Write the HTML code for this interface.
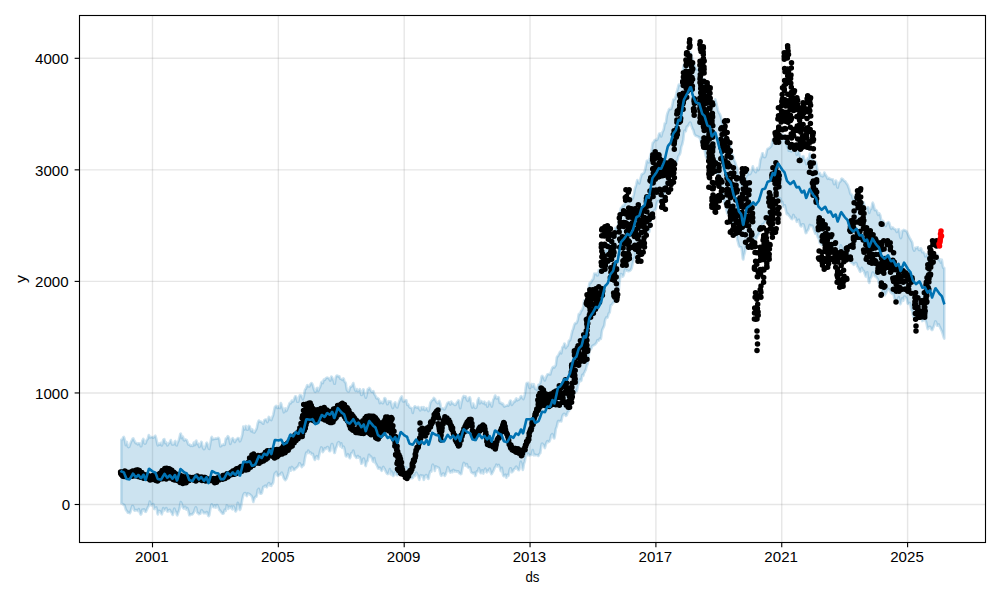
<!DOCTYPE html>
<html><head><meta charset="utf-8"><style>
html,body{margin:0;padding:0;background:#fff;}
svg{display:block;}
text{font-family:"Liberation Sans",sans-serif;font-size:14px;fill:#000;}
</style></head><body>
<svg width="1000" height="600" viewBox="0 0 1000 600">
<rect x="0" y="0" width="1000" height="600" fill="#fff"/>
<g stroke="#808080" stroke-opacity="0.2" stroke-width="1.39"><line x1="152.50" y1="15.5" x2="152.50" y2="542.5"/><line x1="278.35" y1="15.5" x2="278.35" y2="542.5"/><line x1="404.20" y1="15.5" x2="404.20" y2="542.5"/><line x1="530.05" y1="15.5" x2="530.05" y2="542.5"/><line x1="655.90" y1="15.5" x2="655.90" y2="542.5"/><line x1="781.75" y1="15.5" x2="781.75" y2="542.5"/><line x1="907.60" y1="15.5" x2="907.60" y2="542.5"/><line x1="79.5" y1="504.50" x2="985.5" y2="504.50"/><line x1="79.5" y1="392.95" x2="985.5" y2="392.95"/><line x1="79.5" y1="281.40" x2="985.5" y2="281.40"/><line x1="79.5" y1="169.85" x2="985.5" y2="169.85"/><line x1="79.5" y1="58.30" x2="985.5" y2="58.30"/></g>
<polygon points="121.3,439.7 121.8,439.7 122.3,439.5 122.8,438.4 123.3,437.1 123.8,436.9 124.3,438.0 124.8,440.1 125.3,443.0 125.8,445.1 126.3,443.9 126.8,441.9 127.3,444.2 127.8,446.6 128.3,447.1 128.8,447.1 129.3,446.7 129.8,445.4 130.3,443.8 130.8,442.5 131.3,441.3 131.8,440.4 132.3,439.4 132.8,438.5 133.3,438.4 133.8,439.5 134.3,440.7 134.8,441.7 135.3,442.6 135.8,443.3 136.3,443.3 136.8,443.1 137.3,443.8 137.8,444.4 138.3,443.5 138.8,443.3 139.3,443.5 139.8,443.6 140.3,444.7 140.8,446.3 141.3,446.3 141.8,443.3 142.3,440.8 142.8,439.8 143.3,438.8 143.8,440.4 144.3,443.2 144.8,443.7 145.3,443.6 145.8,442.8 146.3,441.1 146.8,439.9 147.3,439.5 147.8,438.8 148.3,436.9 148.8,435.1 149.3,435.9 149.8,437.5 150.3,437.5 150.8,437.1 151.3,437.0 151.8,437.1 152.3,437.3 152.8,437.6 153.3,437.7 153.8,437.2 154.3,436.7 154.8,436.2 155.3,435.7 155.8,437.1 156.3,438.9 156.8,441.3 157.3,444.0 157.8,445.4 158.3,444.4 158.8,443.5 159.3,444.1 159.8,444.7 160.3,443.8 160.8,442.9 161.3,444.1 161.8,445.5 162.3,444.4 162.8,441.7 163.3,439.9 163.8,439.3 164.3,439.1 164.8,440.8 165.3,443.2 165.8,442.9 166.3,442.5 166.8,443.8 167.3,445.4 167.8,445.1 168.3,444.0 168.8,443.2 169.3,442.9 169.8,442.4 170.3,441.1 170.8,440.0 171.3,441.9 171.8,443.7 172.3,444.6 172.8,444.5 173.3,444.3 173.8,444.4 174.3,443.6 174.8,441.4 175.3,441.0 175.8,443.2 176.3,445.3 176.8,445.4 177.3,443.5 177.8,442.2 178.3,441.3 178.8,439.9 179.3,438.0 179.8,436.0 180.3,433.9 180.8,433.6 181.3,435.8 181.8,438.1 182.3,437.3 182.8,436.5 183.3,438.0 183.8,440.1 184.3,440.5 184.8,439.8 185.3,439.4 185.8,439.6 186.3,439.9 186.8,440.2 187.3,441.5 187.8,443.0 188.3,444.4 188.8,444.7 189.3,444.5 189.8,444.6 190.3,445.5 190.8,445.9 191.3,445.5 191.8,445.3 192.3,445.9 192.8,445.9 193.3,444.2 193.8,442.6 194.3,443.5 194.8,445.1 195.3,444.0 195.8,441.2 196.3,440.6 196.8,442.6 197.3,444.1 197.8,443.8 198.3,443.5 198.8,445.8 199.3,447.0 199.8,446.4 200.3,445.3 200.8,443.6 201.3,441.8 201.8,442.4 202.3,445.0 202.8,447.3 203.3,448.3 203.8,449.2 204.3,449.1 204.8,448.2 205.3,446.6 205.8,444.9 206.3,443.2 206.8,442.7 207.3,443.6 207.8,445.3 208.3,447.2 208.8,448.7 209.3,449.0 209.8,446.3 210.3,443.5 210.8,440.7 211.3,437.8 211.8,436.9 212.3,438.4 212.8,439.5 213.3,439.1 213.8,438.8 214.3,438.9 214.8,439.0 215.3,438.7 215.8,438.4 216.3,438.5 216.8,438.7 217.3,438.5 217.8,438.0 218.3,437.8 218.8,438.2 219.3,439.4 219.8,442.9 220.3,446.4 220.8,446.2 221.3,445.2 221.8,445.1 222.3,445.3 222.8,445.0 223.3,444.4 223.8,444.4 224.3,444.9 224.8,444.5 225.3,441.5 225.8,438.6 226.3,438.5 226.8,438.5 227.3,437.0 227.8,436.2 228.3,436.6 228.8,437.4 229.3,439.0 229.8,441.9 230.3,443.9 230.8,442.7 231.3,441.1 231.8,439.8 232.3,438.5 232.8,438.2 233.3,438.9 233.8,440.1 234.3,441.6 234.8,442.1 235.3,441.2 235.8,439.8 236.3,439.5 236.8,439.3 237.3,438.6 237.8,438.1 238.3,438.0 238.8,438.5 239.3,439.8 239.8,441.3 240.3,440.9 240.8,439.5 241.3,438.1 241.8,436.4 242.3,434.7 242.8,430.6 243.3,426.5 243.8,427.5 244.3,429.6 244.8,429.0 245.3,426.5 245.8,425.9 246.3,427.9 246.8,429.6 247.3,429.8 247.8,429.8 248.3,427.8 248.8,425.8 249.3,425.9 249.8,426.6 250.3,428.4 250.8,430.5 251.3,431.3 251.8,430.1 252.3,429.3 252.8,430.8 253.3,432.2 253.8,432.4 254.3,432.6 254.8,431.9 255.3,430.9 255.8,429.9 256.3,429.3 256.8,427.9 257.3,425.3 257.8,423.0 258.3,421.7 258.8,420.5 259.3,421.0 259.8,421.7 260.3,421.8 260.8,421.6 261.3,422.0 261.8,422.6 262.3,422.8 262.8,423.5 263.3,423.7 263.8,421.8 264.3,420.2 264.8,419.8 265.3,419.5 265.8,419.5 266.3,419.6 266.8,420.9 267.3,422.1 267.8,421.5 268.3,418.9 268.8,416.9 269.3,417.2 269.8,419.5 270.3,419.4 270.8,419.3 271.3,420.2 271.8,418.6 272.3,417.2 272.8,416.2 273.3,414.6 273.8,412.1 274.3,409.6 274.8,407.3 275.3,406.5 275.8,406.2 276.3,405.8 276.8,406.7 277.3,408.0 277.8,407.8 278.3,406.6 278.8,406.4 279.3,407.7 279.8,408.1 280.3,405.6 280.8,403.1 281.3,404.1 281.8,406.1 282.3,407.4 282.8,408.7 283.3,410.5 283.8,412.3 284.3,412.0 284.8,409.8 285.3,408.4 285.8,409.7 286.3,411.0 286.8,410.3 287.3,408.9 287.8,407.7 288.3,406.6 288.8,405.3 289.3,403.9 289.8,402.9 290.3,402.9 290.8,403.3 291.3,401.9 291.8,400.5 292.3,401.0 292.8,401.6 293.3,401.4 293.8,399.9 294.3,398.6 294.8,397.3 295.3,396.3 295.8,396.2 296.3,397.3 296.8,399.5 297.3,401.7 297.8,401.8 298.3,401.8 298.8,399.5 299.3,396.4 299.8,395.2 300.3,395.4 300.8,395.1 301.3,395.6 301.8,396.6 302.3,398.1 302.8,399.3 303.3,398.0 303.8,396.2 304.3,393.4 304.8,390.4 305.3,389.1 305.8,388.9 306.3,387.8 306.8,386.1 307.3,385.2 307.8,385.7 308.3,386.3 308.8,386.4 309.3,386.5 309.8,385.6 310.3,384.4 310.8,383.6 311.3,383.1 311.8,383.2 312.3,384.0 312.8,385.2 313.3,387.1 313.8,389.0 314.3,390.2 314.8,391.4 315.3,391.8 315.8,391.3 316.3,390.1 316.8,388.2 317.3,387.9 317.8,389.8 318.3,391.1 318.8,389.9 319.3,388.4 319.8,387.5 320.3,386.5 320.8,384.6 321.3,382.5 321.8,381.8 322.3,383.0 322.8,383.1 323.3,381.2 323.8,379.6 324.3,380.0 324.8,379.9 325.3,379.2 325.8,378.3 326.3,377.9 326.8,377.7 327.3,377.6 327.8,377.9 328.3,378.2 328.8,378.3 329.3,378.8 329.8,380.0 330.3,380.6 330.8,378.6 331.3,376.5 331.8,376.8 332.3,378.1 332.8,379.2 333.3,379.8 333.8,381.3 334.3,383.8 334.8,383.7 335.3,380.4 335.8,377.1 336.3,376.3 336.8,375.6 337.3,375.6 337.8,376.2 338.3,376.6 338.8,376.1 339.3,376.3 339.8,377.6 340.3,378.7 340.8,378.9 341.3,379.1 341.8,379.5 342.3,379.8 342.8,379.2 343.3,378.4 343.8,378.9 344.3,380.7 344.8,382.2 345.3,382.3 345.8,383.1 346.3,386.7 346.8,389.7 347.3,390.5 347.8,391.2 348.3,391.4 348.8,391.4 349.3,390.3 349.8,388.2 350.3,386.7 350.8,386.8 351.3,386.8 351.8,386.0 352.3,385.3 352.8,384.1 353.3,383.0 353.8,384.9 354.3,387.2 354.8,388.9 355.3,390.3 355.8,390.9 356.3,390.1 356.8,389.0 357.3,390.2 357.8,391.3 358.3,390.8 358.8,390.8 359.3,390.1 359.8,389.2 360.3,390.3 360.8,392.9 361.3,395.0 361.8,394.9 362.3,394.1 362.8,391.6 363.3,389.2 363.8,390.0 364.3,392.5 364.8,394.6 365.3,396.5 365.8,397.7 366.3,396.4 366.8,394.3 367.3,391.4 367.8,389.1 368.3,389.1 368.8,389.2 369.3,387.9 369.8,388.4 370.3,389.5 370.8,390.6 371.3,391.4 371.8,391.9 372.3,392.0 372.8,391.3 373.3,391.0 373.8,392.5 374.3,394.0 374.8,394.8 375.3,395.5 375.8,396.5 376.3,398.1 376.8,398.5 377.3,398.0 377.8,398.2 378.3,398.8 378.8,399.1 379.3,401.2 379.8,403.2 380.3,402.3 380.8,401.5 381.3,402.2 381.8,402.5 382.3,402.9 382.8,403.3 383.3,402.6 383.8,400.5 384.3,398.5 384.8,398.0 385.3,398.4 385.8,399.8 386.3,401.3 386.8,402.8 387.3,404.2 387.8,404.0 388.3,402.1 388.8,401.2 389.3,401.6 389.8,401.8 390.3,401.3 390.8,401.4 391.3,403.5 391.8,405.7 392.3,407.1 392.8,408.1 393.3,407.0 393.8,405.0 394.3,403.5 394.8,402.7 395.3,402.4 395.8,404.5 396.3,406.5 396.8,407.2 397.3,407.4 397.8,405.7 398.3,404.1 398.8,402.6 399.3,401.2 399.8,399.9 400.3,398.6 400.8,397.7 401.3,397.0 401.8,396.4 402.3,398.7 402.8,401.0 403.3,401.5 403.8,401.5 404.3,401.3 404.8,400.9 405.3,400.5 405.8,400.1 406.3,400.3 406.8,402.4 407.3,405.0 407.8,404.7 408.3,404.4 408.8,405.5 409.3,406.9 409.8,407.5 410.3,407.7 410.8,407.8 411.3,407.9 411.8,408.4 412.3,410.9 412.8,413.0 413.3,410.6 413.8,408.0 414.3,407.0 414.8,406.3 415.3,406.5 415.8,407.1 416.3,407.5 416.8,407.5 417.3,407.6 417.8,407.2 418.3,406.8 418.8,408.2 419.3,409.1 419.8,409.7 420.3,410.4 420.8,409.4 421.3,407.3 421.8,407.0 422.3,408.5 422.8,409.4 423.3,408.3 423.8,407.1 424.3,409.1 424.8,410.1 425.3,409.7 425.8,408.9 426.3,408.1 426.8,408.1 427.3,409.2 427.8,410.2 428.3,411.1 428.8,410.6 429.3,408.2 429.8,405.6 430.3,402.9 430.8,401.9 431.3,401.4 431.8,400.4 432.3,400.0 432.8,400.0 433.3,398.8 433.8,397.9 434.3,398.3 434.8,398.8 435.3,399.9 435.8,400.9 436.3,401.7 436.8,402.4 437.3,402.9 437.8,403.4 438.3,402.9 438.8,401.5 439.3,401.0 439.8,402.4 440.3,403.8 440.8,406.8 441.3,408.8 441.8,408.8 442.3,408.4 442.8,408.4 443.3,408.6 443.8,409.0 444.3,409.4 444.8,409.1 445.3,408.0 445.8,406.9 446.3,405.7 446.8,404.4 447.3,403.3 447.8,402.7 448.3,402.6 448.8,402.1 449.3,402.4 449.8,403.6 450.3,404.6 450.8,403.3 451.3,401.5 451.8,402.5 452.3,403.5 452.8,403.3 453.3,403.6 453.8,404.2 454.3,404.7 454.8,405.0 455.3,404.9 455.8,404.6 456.3,403.7 456.8,402.6 457.3,401.9 457.8,401.2 458.3,400.4 458.8,400.7 459.3,403.1 459.8,406.8 460.3,408.2 460.8,405.8 461.3,403.3 461.8,401.2 462.3,399.0 462.8,397.7 463.3,396.4 463.8,396.0 464.3,396.9 464.8,396.9 465.3,396.4 465.8,396.7 466.3,398.3 466.8,399.7 467.3,400.3 467.8,400.9 468.3,399.6 468.8,398.3 469.3,397.6 469.8,397.2 470.3,398.7 470.8,401.7 471.3,404.3 471.8,406.3 472.3,407.6 472.8,405.7 473.3,403.5 473.8,405.2 474.3,406.8 474.8,407.5 475.3,407.9 475.8,407.9 476.3,407.3 476.8,405.7 477.3,402.7 477.8,400.1 478.3,399.1 478.8,398.2 479.3,400.4 479.8,403.5 480.3,402.8 480.8,401.2 481.3,401.0 481.8,401.9 482.3,402.4 482.8,403.0 483.3,403.3 483.8,402.4 484.3,401.6 484.8,402.8 485.3,404.3 485.8,403.9 486.3,403.1 486.8,404.3 487.3,406.7 487.8,406.3 488.3,403.6 488.8,401.6 489.3,402.3 489.8,404.0 490.3,403.6 490.8,403.2 491.3,405.3 491.8,406.6 492.3,404.7 492.8,401.8 493.3,399.7 493.8,398.8 494.3,397.7 494.8,396.0 495.3,395.4 495.8,396.9 496.3,398.4 496.8,398.5 497.3,398.2 497.8,397.7 498.3,397.0 498.8,397.8 499.3,400.7 499.8,402.9 500.3,402.8 500.8,402.8 501.3,403.0 501.8,404.1 502.3,404.0 502.8,403.6 503.3,404.5 503.8,406.1 504.3,406.6 504.8,406.3 505.3,406.0 505.8,405.9 506.3,405.8 506.8,405.7 507.3,405.1 507.8,405.3 508.3,405.7 508.8,404.8 509.3,402.9 509.8,401.5 510.3,400.6 510.8,400.7 511.3,402.8 511.8,405.0 512.3,404.3 512.8,403.6 513.3,403.0 513.8,401.7 514.3,401.2 514.8,401.6 515.3,401.0 515.8,399.1 516.3,398.4 516.8,399.4 517.3,400.3 517.8,399.9 518.3,399.5 518.8,399.7 519.3,399.2 519.8,398.4 520.3,397.5 520.8,396.4 521.3,396.1 521.8,396.9 522.3,397.7 522.8,398.4 523.3,399.1 523.8,398.1 524.3,396.4 524.8,394.5 525.3,391.4 525.8,387.4 526.3,384.1 526.8,383.1 527.3,383.0 527.8,382.9 528.3,382.9 528.8,385.3 529.3,387.6 529.8,388.0 530.3,387.9 530.8,386.6 531.3,384.5 531.8,383.9 532.3,385.7 532.8,386.7 533.3,385.3 533.8,384.2 534.3,386.0 534.8,387.8 535.3,388.9 535.8,388.6 536.3,389.0 536.8,389.9 537.3,389.4 537.8,386.7 538.3,384.7 538.8,384.6 539.3,384.2 539.8,383.7 540.3,383.1 540.8,380.7 541.3,377.7 541.8,376.0 542.3,375.9 542.8,376.5 543.3,377.2 543.8,378.0 544.3,379.2 544.8,380.5 545.3,379.3 545.8,377.8 546.3,376.7 546.8,375.7 547.3,374.5 547.8,374.3 548.3,374.2 548.8,374.1 549.3,374.1 549.8,374.5 550.3,374.4 550.8,372.5 551.3,370.7 551.8,369.2 552.3,368.0 552.8,367.2 553.3,366.9 553.8,366.9 554.3,367.5 554.8,366.6 555.3,365.9 555.8,365.2 556.3,361.3 556.8,357.3 557.3,356.3 557.8,356.2 558.3,355.4 558.8,354.3 559.3,353.3 559.8,352.3 560.3,351.5 560.8,352.4 561.3,353.3 561.8,350.4 562.3,347.4 562.8,346.8 563.3,346.8 563.8,345.5 564.3,343.6 564.8,343.7 565.3,346.3 565.8,348.1 566.3,347.3 566.8,346.2 567.3,345.9 567.8,345.5 568.3,343.5 568.8,341.0 569.3,340.3 569.8,340.6 570.3,339.8 570.8,337.5 571.3,335.2 571.8,333.1 572.3,330.9 572.8,329.8 573.3,328.6 573.8,326.6 574.3,324.8 574.8,323.7 575.3,323.2 575.8,323.0 576.3,323.2 576.8,322.5 577.3,321.2 577.8,319.9 578.3,316.8 578.8,314.0 579.3,313.8 579.8,314.2 580.3,313.3 580.8,311.5 581.3,310.6 581.8,310.4 582.3,309.3 582.8,307.9 583.3,306.5 583.8,302.8 584.3,300.2 584.8,301.6 585.3,303.8 585.8,303.5 586.3,300.0 586.8,297.0 587.3,296.7 587.8,295.6 588.3,291.4 588.8,287.2 589.3,284.2 589.8,282.7 590.3,282.6 590.8,282.7 591.3,281.9 591.8,280.6 592.3,279.8 592.8,279.6 593.3,278.9 593.8,276.2 594.3,273.5 594.8,273.8 595.3,274.1 595.8,273.5 596.3,273.5 596.8,274.3 597.3,275.5 597.8,275.3 598.3,272.7 598.8,270.1 599.3,270.2 599.8,270.3 600.3,269.7 600.8,269.0 601.3,267.8 601.8,265.8 602.3,262.8 602.8,259.5 603.3,257.1 603.8,256.5 604.3,255.3 604.8,252.2 605.3,250.2 605.8,249.6 606.3,249.0 606.8,249.9 607.3,251.2 607.8,250.1 608.3,246.8 608.8,244.1 609.3,243.0 609.8,241.9 610.3,241.3 610.8,241.3 611.3,240.6 611.8,239.9 612.3,238.9 612.8,237.9 613.3,236.8 613.8,235.4 614.3,233.4 614.8,230.4 615.3,227.7 615.8,227.7 616.3,228.4 616.8,229.2 617.3,230.0 617.8,227.8 618.3,224.4 618.8,221.3 619.3,218.2 619.8,214.9 620.3,211.5 620.8,208.4 621.3,207.8 621.8,207.6 622.3,206.6 622.8,205.6 623.3,205.7 623.8,206.0 624.3,205.2 624.8,203.6 625.3,202.4 625.8,201.8 626.3,201.4 626.8,201.3 627.3,201.3 627.8,201.0 628.3,200.7 628.8,200.5 629.3,200.5 629.8,201.2 630.3,201.7 630.8,201.1 631.3,199.0 631.8,197.5 632.3,197.9 632.8,198.3 633.3,196.5 633.8,194.5 634.3,191.9 634.8,189.1 635.3,187.4 635.8,186.3 636.3,184.3 636.8,181.7 637.3,180.1 637.8,180.8 638.3,181.5 638.8,182.5 639.3,183.5 639.8,181.6 640.3,179.3 640.8,177.3 641.3,175.5 641.8,174.2 642.3,174.0 642.8,173.8 643.3,173.4 643.8,173.0 644.3,172.3 644.8,170.7 645.3,168.4 645.8,166.0 646.3,163.5 646.8,160.9 647.3,160.6 647.8,161.3 648.3,162.0 648.8,162.4 649.3,160.2 649.8,157.8 650.3,155.3 650.8,153.8 651.3,152.6 651.8,149.3 652.3,145.0 652.8,142.8 653.3,142.4 653.8,141.8 654.3,140.9 654.8,140.0 655.3,139.9 655.8,139.7 656.3,139.9 656.8,140.1 657.3,139.4 657.8,138.3 658.3,136.8 658.8,134.7 659.3,133.6 659.8,133.5 660.3,133.4 660.8,135.1 661.3,136.5 661.8,134.8 662.3,132.5 662.8,131.2 663.3,130.5 663.8,129.0 664.3,126.0 664.8,123.2 665.3,123.2 665.8,123.2 666.3,119.6 666.8,115.9 667.3,113.9 667.8,112.4 668.3,111.1 668.8,109.7 669.3,108.9 669.8,108.9 670.3,109.0 670.8,109.2 671.3,108.6 671.8,106.8 672.3,104.9 672.8,102.3 673.3,99.8 673.8,99.2 674.3,99.4 674.8,98.9 675.3,97.4 675.8,95.9 676.3,94.1 676.8,91.8 677.3,90.1 677.8,88.4 678.3,86.0 678.8,84.6 679.3,84.7 679.8,85.2 680.3,85.5 680.8,84.4 681.3,82.3 681.8,79.5 682.3,76.6 682.8,71.7 683.3,66.7 683.8,65.1 684.3,65.6 684.8,65.6 685.3,64.9 685.8,63.7 686.3,61.8 686.8,59.9 687.3,57.9 687.8,56.0 688.3,56.6 688.8,57.1 689.3,55.4 689.8,53.1 690.3,52.4 690.8,53.4 691.3,55.2 691.8,56.9 692.3,58.8 692.8,61.4 693.3,63.3 693.8,63.5 694.3,63.6 694.8,65.0 695.3,66.8 695.8,68.1 696.3,68.6 696.8,69.0 697.3,69.5 697.8,69.7 698.3,68.7 698.8,67.7 699.3,70.0 699.8,73.7 700.3,74.4 700.8,74.3 701.3,75.3 701.8,77.1 702.3,78.5 702.8,79.0 703.3,79.2 703.8,79.2 704.3,79.2 704.8,81.2 705.3,83.7 705.8,86.4 706.3,89.0 706.8,91.0 707.3,92.5 707.8,92.4 708.3,91.2 708.8,90.3 709.3,90.4 709.8,90.7 710.3,93.4 710.8,96.4 711.3,100.0 711.8,103.4 712.3,103.3 712.8,101.9 713.3,101.2 713.8,101.7 714.3,101.9 714.8,100.5 715.3,99.4 715.8,101.1 716.3,102.9 716.8,105.1 717.3,107.3 717.8,109.3 718.3,111.1 718.8,112.5 719.3,113.2 719.8,113.9 720.3,115.3 720.8,116.7 721.3,118.8 721.8,121.2 722.3,124.2 722.8,127.2 723.3,129.4 723.8,131.3 724.3,133.3 724.8,135.7 725.3,138.0 725.8,140.1 726.3,142.3 726.8,142.5 727.3,142.6 727.8,142.9 728.3,143.6 728.8,144.2 729.3,144.9 729.8,145.7 730.3,146.6 730.8,148.1 731.3,151.9 731.8,155.9 732.3,155.5 732.8,155.1 733.3,157.1 733.8,159.4 734.3,160.4 734.8,161.3 735.3,162.5 735.8,164.2 736.3,166.1 736.8,166.9 737.3,167.8 737.8,171.1 738.3,174.4 738.8,176.1 739.3,176.2 739.8,176.7 740.3,177.6 740.8,179.0 741.3,181.1 741.8,184.9 742.3,186.2 742.8,187.5 743.3,190.2 743.8,188.9 744.3,186.2 744.8,183.2 745.3,180.5 745.8,178.0 746.3,176.0 746.8,175.2 747.3,175.1 747.8,172.9 748.3,170.8 748.8,172.5 749.3,174.2 749.8,174.2 750.3,173.8 750.8,172.9 751.3,171.8 751.8,170.1 752.3,167.9 752.8,166.3 753.3,167.7 753.8,170.0 754.3,170.4 754.8,170.8 755.3,171.8 755.8,172.2 756.3,170.8 756.8,168.7 757.3,167.9 757.8,169.3 758.3,170.2 758.8,169.2 759.3,167.5 759.8,163.8 760.3,160.0 760.8,158.4 761.3,157.2 761.8,155.3 762.3,153.2 762.8,153.3 763.3,155.3 763.8,157.0 764.3,157.1 764.8,157.1 765.3,156.8 765.8,155.6 766.3,153.4 766.8,151.0 767.3,149.3 767.8,148.7 768.3,148.6 768.8,148.4 769.3,148.2 769.8,147.7 770.3,147.0 770.8,146.7 771.3,146.1 771.8,143.9 772.3,141.3 772.8,139.4 773.3,139.0 773.8,139.4 774.3,140.6 774.8,140.6 775.3,137.1 775.8,133.3 776.3,133.3 776.8,133.9 777.3,132.9 777.8,131.6 778.3,130.4 778.8,130.3 779.3,131.1 779.8,133.1 780.3,134.7 780.8,135.3 781.3,135.8 781.8,135.5 782.3,135.1 782.8,134.9 783.3,134.8 783.8,135.1 784.3,135.9 784.8,137.1 785.3,139.0 785.8,140.9 786.3,142.9 786.8,145.0 787.3,146.4 787.8,147.3 788.3,149.0 788.8,150.8 789.3,150.8 789.8,149.6 790.3,149.4 790.8,150.8 791.3,151.5 791.8,150.5 792.3,149.5 792.8,149.5 793.3,149.5 793.8,148.5 794.3,148.4 794.8,148.3 795.3,148.3 795.8,149.6 796.3,152.9 796.8,154.8 797.3,153.3 797.8,151.7 798.3,151.2 798.8,150.8 799.3,152.7 799.8,155.6 800.3,157.2 800.8,157.9 801.3,158.3 801.8,157.8 802.3,156.6 802.8,156.3 803.3,156.0 803.8,157.4 804.3,159.5 804.8,160.1 805.3,160.2 805.8,162.1 806.3,164.2 806.8,163.3 807.3,160.4 807.8,158.2 808.3,158.8 808.8,159.3 809.3,156.1 809.8,153.5 810.3,154.7 810.8,156.6 811.3,157.1 811.8,156.5 812.3,157.1 812.8,159.3 813.3,161.4 813.8,162.9 814.3,164.3 814.8,162.8 815.3,161.3 815.8,161.9 816.3,163.5 816.8,166.2 817.3,169.3 817.8,171.7 818.3,172.9 818.8,173.4 819.3,173.1 819.8,172.8 820.3,174.2 820.8,175.6 821.3,175.9 821.8,175.6 822.3,175.7 822.8,176.3 823.3,175.9 823.8,173.9 824.3,172.5 824.8,173.3 825.3,174.5 825.8,175.2 826.3,175.8 826.8,177.0 827.3,178.3 827.8,178.8 828.3,178.3 828.8,177.8 829.3,178.5 829.8,179.0 830.3,178.8 830.8,179.2 831.3,179.3 831.8,179.5 832.3,179.5 832.8,179.4 833.3,181.4 833.8,183.5 834.3,184.2 834.8,183.0 835.3,181.7 835.8,180.5 836.3,180.9 836.8,184.2 837.3,187.4 837.8,187.6 838.3,185.0 838.8,183.4 839.3,182.6 839.8,181.9 840.3,181.6 840.8,180.8 841.3,179.0 841.8,178.6 842.3,178.9 842.8,179.2 843.3,179.8 843.8,180.6 844.3,181.0 844.8,181.0 845.3,181.5 845.8,182.3 846.3,183.2 846.8,183.8 847.3,184.4 847.8,185.3 848.3,186.7 848.8,188.1 849.3,189.4 849.8,191.5 850.3,193.5 850.8,194.5 851.3,194.4 851.8,194.7 852.3,196.7 852.8,198.7 853.3,199.4 853.8,199.5 854.3,197.8 854.8,195.6 855.3,195.0 855.8,195.4 856.3,195.4 856.8,195.5 857.3,196.2 857.8,196.2 858.3,196.1 858.8,197.4 859.3,198.7 859.8,200.8 860.3,202.8 860.8,202.9 861.3,201.6 861.8,201.3 862.3,202.9 862.8,204.4 863.3,203.5 863.8,202.5 864.3,205.1 864.8,207.2 865.3,207.9 865.8,208.3 866.3,208.2 866.8,207.8 867.3,207.4 867.8,207.0 868.3,207.3 868.8,210.7 869.3,212.9 869.8,211.2 870.3,209.5 870.8,209.1 871.3,208.9 871.8,206.9 872.3,203.8 872.8,202.6 873.3,203.9 873.8,205.5 874.3,207.8 874.8,210.1 875.3,210.0 875.8,209.8 876.3,210.3 876.8,210.9 877.3,212.3 877.8,214.2 878.3,214.9 878.8,213.7 879.3,213.4 879.8,214.3 880.3,215.3 880.8,217.9 881.3,220.6 881.8,220.9 882.3,220.7 882.8,220.8 883.3,221.1 883.8,222.0 884.3,223.8 884.8,225.1 885.3,225.7 885.8,226.2 886.3,224.7 886.8,223.2 887.3,222.6 887.8,222.4 888.3,222.1 888.8,222.2 889.3,223.0 889.8,224.8 890.3,226.5 890.8,228.0 891.3,228.8 891.8,228.1 892.3,227.5 892.8,227.6 893.3,228.0 893.8,228.7 894.3,229.0 894.8,229.2 895.3,229.2 895.8,229.7 896.3,231.3 896.8,232.0 897.3,231.2 897.8,230.5 898.3,229.3 898.8,229.1 899.3,231.2 899.8,234.3 900.3,237.2 900.8,238.1 901.3,237.0 901.8,233.9 902.3,230.8 902.8,230.6 903.3,230.4 903.8,229.9 904.3,230.1 904.8,230.6 905.3,230.6 905.8,230.7 906.3,231.2 906.8,231.8 907.3,232.9 907.8,234.0 908.3,235.2 908.8,236.2 909.3,237.2 909.8,238.3 910.3,238.9 910.8,239.9 911.3,241.0 911.8,241.5 912.3,242.7 912.8,246.3 913.3,249.0 913.8,249.9 914.3,250.7 914.8,249.5 915.3,247.8 915.8,247.7 916.3,248.2 916.8,247.9 917.3,247.3 917.8,247.1 918.3,248.5 918.8,249.9 919.3,249.7 919.8,250.2 920.3,249.5 920.8,248.3 921.3,248.9 921.8,250.9 922.3,252.2 922.8,252.2 923.3,251.9 923.8,252.5 924.3,253.2 924.8,254.4 925.3,256.4 925.8,255.8 926.3,254.4 926.8,254.7 927.3,255.9 927.8,256.9 928.3,257.3 928.8,257.5 929.3,257.1 929.8,256.8 930.3,258.0 930.8,260.4 931.3,261.7 931.8,262.6 932.3,262.0 932.8,259.8 933.3,258.2 933.8,257.4 934.3,256.8 934.8,257.1 935.3,257.5 935.8,256.7 936.3,256.8 936.8,256.0 937.3,255.0 937.8,256.2 938.3,258.8 938.8,260.1 939.3,259.4 939.8,259.2 940.3,261.0 940.8,262.7 941.3,261.2 941.8,259.7 942.3,262.4 942.8,266.4 943.3,267.9 943.8,267.6 944.3,268.2 944.3,338.6 943.8,337.7 943.3,335.8 942.8,334.1 942.3,332.5 941.8,331.1 941.3,330.0 940.8,328.9 940.3,327.9 939.8,326.8 939.3,325.7 938.8,324.4 938.3,324.6 937.8,325.8 937.3,325.8 936.8,324.2 936.3,322.6 935.8,321.6 935.3,321.3 934.8,323.1 934.3,324.9 933.8,326.3 933.3,327.5 932.8,328.7 932.3,329.9 931.8,330.0 931.3,329.3 930.8,328.4 930.3,326.9 929.8,326.7 929.3,326.9 928.8,327.1 928.3,328.0 927.8,329.1 927.3,327.6 926.8,324.7 926.3,322.5 925.8,321.4 925.3,320.3 924.8,319.2 924.3,319.0 923.8,319.4 923.3,319.9 922.8,320.7 922.3,321.1 921.8,319.6 921.3,317.3 920.8,316.3 920.3,317.1 919.8,317.7 919.3,317.8 918.8,318.8 918.3,318.3 917.8,317.9 917.3,317.7 916.8,317.5 916.3,317.8 915.8,317.9 915.3,317.5 914.8,316.8 914.3,316.3 913.8,316.5 913.3,316.8 912.8,314.6 912.3,311.5 911.8,310.4 911.3,309.9 910.8,307.5 910.3,304.2 909.8,302.9 909.3,303.5 908.8,303.9 908.3,303.9 907.8,303.7 907.3,301.3 906.8,299.0 906.3,298.1 905.8,297.5 905.3,297.0 904.8,296.6 904.3,296.6 903.8,298.5 903.3,300.6 902.8,299.4 902.3,298.2 901.8,299.8 901.3,301.4 900.8,303.5 900.3,304.1 899.8,302.0 899.3,299.0 898.8,297.2 898.3,298.1 897.8,300.0 897.3,301.2 896.8,302.4 896.3,301.5 895.8,299.7 895.3,299.3 894.8,299.4 894.3,298.0 893.8,295.5 893.3,293.8 892.8,293.9 892.3,293.8 891.8,293.3 891.3,292.9 890.8,292.6 890.3,291.6 889.8,290.7 889.3,289.9 888.8,289.3 888.3,288.9 887.8,289.4 887.3,290.4 886.8,291.5 886.3,292.6 885.8,293.6 885.3,294.4 884.8,295.2 884.3,293.4 883.8,290.7 883.3,290.6 882.8,292.4 882.3,292.4 881.8,290.0 881.3,287.8 880.8,286.4 880.3,285.0 879.8,285.1 879.3,285.2 878.8,282.8 878.3,280.4 877.8,279.1 877.3,278.6 876.8,277.9 876.3,277.0 875.8,276.2 875.3,276.2 874.8,276.3 874.3,275.0 873.8,273.8 873.3,273.0 872.8,272.5 872.3,273.4 871.8,275.7 871.3,277.2 870.8,277.7 870.3,278.5 869.8,280.7 869.3,283.0 868.8,281.9 868.3,279.6 867.8,276.1 867.3,272.3 866.8,272.6 866.3,275.3 865.8,276.5 865.3,275.3 864.8,274.1 864.3,272.6 863.8,270.7 863.3,270.7 862.8,270.8 862.3,269.2 861.8,267.8 861.3,268.7 860.8,270.9 860.3,271.9 859.8,271.2 859.3,270.1 858.8,268.9 858.3,267.8 857.8,267.1 857.3,266.4 856.8,264.5 856.3,263.1 855.8,262.9 855.3,263.2 854.8,263.6 854.3,264.3 853.8,264.8 853.3,264.3 852.8,263.2 852.3,263.1 851.8,263.0 851.3,262.5 850.8,262.0 850.3,261.7 849.8,261.3 849.3,260.2 848.8,259.0 848.3,257.4 847.8,254.8 847.3,252.6 846.8,253.5 846.3,254.5 845.8,254.0 845.3,253.2 844.8,252.5 844.3,251.9 843.8,251.2 843.3,250.5 842.8,249.8 842.3,249.3 841.8,248.9 841.3,246.4 840.8,245.3 840.3,247.4 839.8,250.0 839.3,252.3 838.8,254.2 838.3,256.0 837.8,257.7 837.3,256.9 836.8,254.7 836.3,252.6 835.8,250.7 835.3,250.5 834.8,249.8 834.3,248.7 833.8,249.0 833.3,250.1 832.8,249.3 832.3,247.3 831.8,245.6 831.3,244.9 830.8,244.2 830.3,245.1 829.8,246.9 829.3,246.7 828.8,246.0 828.3,245.5 827.8,244.4 827.3,243.4 826.8,243.2 826.3,242.9 825.8,242.4 825.3,242.0 824.8,242.0 824.3,242.4 823.8,241.9 823.3,241.2 822.8,242.1 822.3,244.1 821.8,245.1 821.3,243.9 820.8,242.8 820.3,242.9 819.8,243.1 819.3,240.8 818.8,238.4 818.3,237.9 817.8,237.2 817.3,235.7 816.8,233.8 816.3,232.5 815.8,233.1 815.3,233.7 814.8,232.3 814.3,231.0 813.8,229.7 813.3,228.3 812.8,227.0 812.3,225.8 811.8,225.6 811.3,225.9 810.8,225.9 810.3,225.4 809.8,224.9 809.3,226.3 808.8,228.3 808.3,229.3 807.8,230.3 807.3,231.0 806.8,231.6 806.3,233.0 805.8,233.1 805.3,231.6 804.8,229.2 804.3,226.9 803.8,225.2 803.3,224.2 802.8,224.2 802.3,224.2 801.8,225.6 801.3,226.5 800.8,226.2 800.3,225.4 799.8,223.9 799.3,221.4 798.8,219.7 798.3,220.2 797.8,220.8 797.3,221.3 796.8,221.8 796.3,220.4 795.8,218.1 795.3,217.6 794.8,218.2 794.3,217.7 793.8,215.5 793.3,215.0 792.8,217.2 792.3,219.3 791.8,219.0 791.3,218.7 790.8,218.0 790.3,217.2 789.8,216.5 789.3,216.1 788.8,215.5 788.3,214.4 787.8,213.6 787.3,214.2 786.8,214.2 786.3,212.1 785.8,209.9 785.3,207.6 784.8,205.3 784.3,205.2 783.8,206.7 783.3,206.5 782.8,203.9 782.3,201.9 781.8,202.5 781.3,203.0 780.8,200.8 780.3,198.6 779.8,198.1 779.3,197.9 778.8,198.3 778.3,199.2 777.8,200.5 777.3,201.1 776.8,201.6 776.3,201.3 775.8,201.6 775.3,204.9 774.8,207.9 774.3,207.9 773.8,206.7 773.3,206.3 772.8,206.7 772.3,207.8 771.8,208.1 771.3,209.0 770.8,212.2 770.3,215.0 769.8,215.1 769.3,215.0 768.8,215.5 768.3,216.1 767.8,216.0 767.3,216.0 766.8,217.4 766.3,219.7 765.8,221.6 765.3,222.2 764.8,222.0 764.3,222.9 763.8,223.9 763.3,224.1 762.8,224.1 762.3,224.5 761.8,225.9 761.3,227.5 760.8,228.8 760.3,230.1 759.8,231.6 759.3,233.1 758.8,234.2 758.3,234.6 757.8,235.2 757.3,236.0 756.8,237.3 756.3,238.8 755.8,239.4 755.3,238.3 754.8,237.0 754.3,237.9 753.8,238.7 753.3,236.1 752.8,234.4 752.3,236.4 751.8,239.2 751.3,240.8 750.8,241.4 750.3,241.6 749.8,241.1 749.3,240.8 748.8,240.9 748.3,241.0 747.8,240.2 747.3,239.3 746.8,240.3 746.3,243.0 745.8,246.4 745.3,249.9 744.8,252.6 744.3,254.3 743.8,256.3 743.3,259.5 742.8,258.7 742.3,254.4 741.8,250.1 741.3,247.3 740.8,247.2 740.3,247.1 739.8,246.9 739.3,246.5 738.8,245.5 738.3,243.4 737.8,241.5 737.3,239.7 736.8,236.0 736.3,232.3 735.8,231.8 735.3,232.5 734.8,231.6 734.3,229.8 733.8,228.7 733.3,227.8 732.8,226.5 732.3,224.7 731.8,223.0 731.3,220.8 730.8,218.8 730.3,216.3 729.8,213.7 729.3,212.5 728.8,212.3 728.3,212.5 727.8,213.2 727.3,213.5 726.8,211.5 726.3,209.5 725.8,207.2 725.3,205.0 724.8,204.3 724.3,203.9 723.8,201.5 723.3,197.7 722.8,194.8 722.3,193.5 721.8,191.8 721.3,189.2 720.8,187.0 720.3,185.8 719.8,184.6 719.3,182.7 718.8,180.5 718.3,179.0 717.8,178.0 717.3,175.8 716.8,171.6 716.3,168.4 715.8,168.8 715.3,169.2 714.8,168.7 714.3,168.5 713.8,168.6 713.3,168.7 712.8,169.3 712.3,170.3 711.8,170.4 711.3,167.7 710.8,165.0 710.3,164.0 709.8,163.3 709.3,162.0 708.8,161.0 708.3,160.1 707.8,159.1 707.3,159.1 706.8,158.7 706.3,157.9 705.8,156.1 705.3,154.1 704.8,151.0 704.3,148.5 703.8,148.5 703.3,148.4 702.8,147.3 702.3,145.9 701.8,144.3 701.3,142.9 700.8,141.3 700.3,139.7 699.8,138.2 699.3,137.1 698.8,137.4 698.3,136.9 697.8,136.4 697.3,136.2 696.8,136.1 696.3,136.1 695.8,135.9 695.3,135.2 694.8,134.7 694.3,133.9 693.8,131.9 693.3,129.9 692.8,129.4 692.3,128.4 691.8,126.8 691.3,125.3 690.8,123.5 690.3,122.6 689.8,122.7 689.3,123.6 688.8,124.5 688.3,125.4 687.8,126.3 687.3,126.5 686.8,126.6 686.3,128.7 685.8,131.2 685.3,131.6 684.8,130.4 684.3,131.1 683.8,135.0 683.3,139.7 682.8,141.9 682.3,144.2 681.8,145.5 681.3,146.8 680.8,150.1 680.3,153.0 679.8,154.2 679.3,155.0 678.8,155.7 678.3,156.6 677.8,158.8 677.3,160.3 676.8,161.8 676.3,163.5 675.8,164.6 675.3,164.9 674.8,165.2 674.3,165.3 673.8,165.3 673.3,166.4 672.8,170.0 672.3,173.1 671.8,172.5 671.3,172.0 670.8,175.0 670.3,177.2 669.8,177.1 669.3,176.6 668.8,178.0 668.3,180.8 667.8,182.3 667.3,182.4 666.8,183.0 666.3,184.7 665.8,186.3 665.3,190.0 664.8,193.7 664.3,196.0 663.8,197.5 663.3,198.8 662.8,200.2 662.3,201.3 661.8,201.8 661.3,202.3 660.8,201.3 660.3,200.1 659.8,201.2 659.3,202.1 658.8,201.4 658.3,201.0 657.8,201.4 657.3,202.2 656.8,203.8 656.3,206.5 655.8,208.7 655.3,209.3 654.8,209.8 654.3,210.3 653.8,210.8 653.3,212.1 652.8,213.6 652.3,213.8 651.8,213.9 651.3,215.4 650.8,218.7 650.3,222.3 649.8,227.1 649.3,231.9 648.8,232.0 648.3,229.4 647.8,229.0 647.3,229.1 646.8,229.5 646.3,231.5 645.8,234.1 645.3,237.5 644.8,240.7 644.3,242.2 643.8,242.9 643.3,241.4 642.8,239.9 642.3,241.4 641.8,243.7 641.3,245.1 640.8,245.6 640.3,246.6 639.8,248.3 639.3,250.2 638.8,251.7 638.3,253.1 637.8,251.8 637.3,250.4 636.8,249.8 636.3,249.8 635.8,252.2 635.3,255.7 634.8,257.8 634.3,257.9 633.8,258.5 633.3,261.0 632.8,263.3 632.3,265.5 631.8,267.7 631.3,268.9 630.8,269.8 630.3,270.4 629.8,270.9 629.3,270.8 628.8,271.1 628.3,271.3 627.8,270.8 627.3,270.3 626.8,270.5 626.3,270.7 625.8,270.0 625.3,269.1 624.8,270.3 624.3,272.8 623.8,274.7 623.3,275.9 622.8,276.6 622.3,275.6 621.8,274.6 621.3,274.1 620.8,274.1 620.3,277.1 619.8,280.6 619.3,284.9 618.8,289.8 618.3,293.8 617.8,296.6 617.3,298.6 616.8,298.3 616.3,298.1 615.8,296.2 615.3,294.9 614.8,297.5 614.3,300.8 613.8,302.3 613.3,302.6 612.8,303.1 612.3,304.0 611.8,304.8 611.3,305.1 610.8,305.3 610.3,308.4 609.8,312.2 609.3,313.1 608.8,313.2 608.3,314.8 607.8,316.9 607.3,317.7 606.8,317.5 606.3,317.4 605.8,318.4 605.3,319.3 604.8,321.7 604.3,325.2 603.8,326.6 603.3,327.6 602.8,328.6 602.3,329.5 601.8,331.9 601.3,336.2 600.8,339.0 600.3,338.8 599.8,338.5 599.3,339.5 598.8,340.5 598.3,340.7 597.8,340.0 597.3,340.5 596.8,342.1 596.3,343.0 595.8,343.4 595.3,344.3 594.8,344.6 594.3,344.8 593.8,345.2 593.3,345.4 592.8,345.7 592.3,346.1 591.8,347.1 591.3,348.5 590.8,349.3 590.3,349.0 589.8,349.1 589.3,351.5 588.8,355.3 588.3,359.3 587.8,363.3 587.3,364.7 586.8,365.5 586.3,367.8 585.8,369.8 585.3,370.6 584.8,371.8 584.3,372.7 583.8,373.6 583.3,375.7 582.8,375.2 582.3,374.8 581.8,377.8 581.3,380.9 580.8,381.1 580.3,379.7 579.8,379.5 579.3,381.2 578.8,382.8 578.3,384.6 577.8,386.5 577.3,388.9 576.8,391.2 576.3,391.5 575.8,390.6 575.3,391.4 574.8,393.3 574.3,393.8 573.8,392.4 573.3,391.9 572.8,394.3 572.3,396.8 571.8,400.6 571.3,404.5 570.8,405.8 570.3,406.5 569.8,408.1 569.3,410.1 568.8,411.3 568.3,411.4 567.8,411.8 567.3,413.5 566.8,415.0 566.3,415.5 565.8,415.8 565.3,415.1 564.8,414.2 564.3,413.7 563.8,413.9 563.3,414.5 562.8,415.3 562.3,416.4 561.8,419.0 561.3,421.4 560.8,421.2 560.3,420.9 559.8,421.2 559.3,421.5 558.8,421.4 558.3,421.0 557.8,421.9 557.3,424.2 556.8,426.4 556.3,427.7 555.8,429.0 555.3,432.8 554.8,436.5 554.3,438.4 553.8,438.3 553.3,437.0 552.8,435.0 552.3,434.0 551.8,434.4 551.3,435.1 550.8,437.1 550.3,439.1 549.8,440.6 549.3,441.5 548.8,441.9 548.3,442.1 547.8,441.8 547.3,441.1 546.8,441.9 546.3,443.2 545.8,444.6 545.3,446.5 544.8,448.1 544.3,446.7 543.8,445.4 543.3,444.7 542.8,444.2 542.3,443.6 541.8,443.7 541.3,445.8 540.8,449.8 540.3,453.1 539.8,453.6 539.3,454.0 538.8,455.2 538.3,455.9 537.8,455.5 537.3,455.1 536.8,455.0 536.3,455.1 535.8,455.1 535.3,455.2 534.8,454.3 534.3,454.8 533.8,455.3 533.3,452.5 532.8,450.0 532.3,451.6 531.8,454.1 531.3,455.0 530.8,455.0 530.3,455.1 529.8,455.3 529.3,455.4 528.8,454.5 528.3,453.7 527.8,454.5 527.3,455.2 526.8,453.7 526.3,452.5 525.8,454.8 525.3,458.8 524.8,461.6 524.3,462.9 523.8,464.6 523.3,468.1 522.8,469.9 522.3,467.7 521.8,465.6 521.3,463.0 520.8,461.7 520.3,463.6 519.8,467.0 519.3,469.4 518.8,470.2 518.3,470.1 517.8,469.3 517.3,468.5 516.8,467.5 516.3,466.6 515.8,466.9 515.3,468.3 514.8,468.9 514.3,468.8 513.8,469.5 513.3,470.8 512.8,471.3 512.3,471.8 511.8,472.3 511.3,470.3 510.8,468.3 510.3,468.3 509.8,469.3 509.3,471.4 508.8,474.4 508.3,475.9 507.8,475.1 507.3,474.8 506.8,476.5 506.3,477.7 505.8,476.2 505.3,474.7 504.8,475.1 504.3,475.9 503.8,476.2 503.3,475.6 502.8,473.8 502.3,470.4 501.8,467.8 501.3,469.1 500.8,471.2 500.3,469.4 499.8,467.6 499.3,466.2 498.8,464.9 498.3,465.0 497.8,466.1 497.3,466.4 496.8,465.3 496.3,464.6 495.8,465.9 495.3,467.1 494.8,467.5 494.3,468.8 493.8,470.0 493.3,471.1 492.8,472.0 492.3,472.9 491.8,474.1 491.3,474.1 490.8,472.6 490.3,470.5 489.8,468.5 489.3,469.3 488.8,471.1 488.3,471.0 487.8,470.5 487.3,471.4 486.8,472.3 486.3,471.9 485.8,470.0 485.3,468.7 484.8,469.5 484.3,470.6 483.8,472.1 483.3,473.6 482.8,472.3 482.3,470.2 481.8,470.6 481.3,472.4 480.8,473.2 480.3,472.4 479.8,471.4 479.3,469.3 478.8,468.1 478.3,469.7 477.8,471.4 477.3,471.5 476.8,471.4 476.3,472.8 475.8,475.3 475.3,475.9 474.8,474.0 474.3,472.7 473.8,473.0 473.3,473.4 472.8,473.3 472.3,472.9 471.8,472.5 471.3,472.3 470.8,470.8 470.3,468.5 469.8,467.4 469.3,467.7 468.8,467.9 468.3,467.6 467.8,467.2 467.3,465.6 466.8,464.0 466.3,464.6 465.8,465.9 465.3,465.6 464.8,464.2 464.3,463.2 463.8,462.9 463.3,463.9 462.8,466.5 462.3,469.0 461.8,471.5 461.3,473.9 460.8,474.2 460.3,473.8 459.8,473.4 459.3,473.2 458.8,472.5 458.3,471.2 457.8,471.2 457.3,471.5 456.8,471.8 456.3,471.4 455.8,470.9 455.3,471.1 454.8,471.6 454.3,471.2 453.8,470.2 453.3,469.9 452.8,470.9 452.3,472.2 451.8,471.6 451.3,471.0 450.8,472.1 450.3,472.6 449.8,471.9 449.3,471.1 448.8,469.7 448.3,468.0 447.8,467.2 447.3,468.8 446.8,470.8 446.3,472.5 445.8,474.1 445.3,475.0 444.8,476.0 444.3,475.4 443.8,473.8 443.3,473.4 442.8,473.9 442.3,474.6 441.8,475.3 441.3,475.8 440.8,475.1 440.3,473.6 439.8,471.3 439.3,469.0 438.8,467.8 438.3,467.5 437.8,467.5 437.3,467.3 436.8,466.9 436.3,466.5 435.8,466.4 435.3,468.7 434.8,471.0 434.3,468.9 433.8,466.8 433.3,465.6 432.8,464.6 432.3,465.6 431.8,469.3 431.3,471.8 430.8,471.2 430.3,471.2 429.8,472.9 429.3,474.6 428.8,477.7 428.3,478.9 427.8,478.3 427.3,477.4 426.8,475.8 426.3,475.0 425.8,475.2 425.3,475.8 424.8,476.8 424.3,478.8 423.8,479.9 423.3,477.8 422.8,475.6 422.3,475.7 421.8,476.2 421.3,475.8 420.8,475.2 420.3,475.8 419.8,478.1 419.3,479.8 418.8,478.4 418.3,476.4 417.8,475.5 417.3,474.5 416.8,473.5 416.3,472.6 415.8,473.3 415.3,475.1 414.8,476.0 414.3,475.5 413.8,475.4 413.3,476.8 412.8,478.1 412.3,478.2 411.8,478.0 411.3,478.2 410.8,478.4 410.3,477.8 409.8,476.5 409.3,475.2 408.8,473.6 408.3,472.1 407.8,471.1 407.3,470.0 406.8,468.6 406.3,467.6 405.8,467.5 405.3,467.6 404.8,468.8 404.3,470.5 403.8,471.2 403.3,470.4 402.8,469.3 402.3,467.0 401.8,464.7 401.3,464.2 400.8,463.9 400.3,465.2 399.8,467.3 399.3,469.5 398.8,471.8 398.3,473.4 397.8,474.2 397.3,475.3 396.8,475.1 396.3,474.4 395.8,473.1 395.3,471.8 394.8,472.8 394.3,474.2 393.8,475.3 393.3,476.0 392.8,475.8 392.3,473.4 391.8,471.6 391.3,473.0 390.8,474.4 390.3,471.5 389.8,469.1 389.3,470.4 388.8,472.4 388.3,473.6 387.8,474.1 387.3,473.9 386.8,473.3 386.3,472.5 385.8,471.6 385.3,470.6 384.8,469.1 384.3,468.5 383.8,467.7 383.3,466.8 382.8,467.7 382.3,469.7 381.8,470.8 381.3,470.5 380.8,469.4 380.3,468.6 379.8,467.7 379.3,468.2 378.8,468.6 378.3,468.5 377.8,467.6 377.3,466.4 376.8,465.3 376.3,464.3 375.8,463.5 375.3,462.8 374.8,460.4 374.3,458.0 373.8,460.0 373.3,461.9 372.8,461.1 372.3,459.6 371.8,458.2 371.3,456.9 370.8,456.3 370.3,456.7 369.8,456.7 369.3,454.9 368.8,454.9 368.3,457.8 367.8,460.7 367.3,461.4 366.8,461.5 366.3,463.3 365.8,466.1 365.3,465.4 364.8,462.6 364.3,460.1 363.8,458.6 363.3,458.9 362.8,460.8 362.3,462.7 361.8,463.5 361.3,463.7 360.8,461.6 360.3,458.8 359.8,457.2 359.3,457.7 358.8,457.8 358.3,456.5 357.8,455.9 357.3,456.8 356.8,457.8 356.3,457.9 355.8,457.1 355.3,456.3 354.8,455.9 354.3,454.7 353.8,452.4 353.3,450.5 352.8,451.6 352.3,452.9 351.8,453.1 351.3,453.2 350.8,455.0 350.3,457.4 349.8,458.2 349.3,457.4 348.8,456.3 348.3,455.0 347.8,454.2 347.3,455.2 346.8,456.1 346.3,456.4 345.8,456.1 345.3,453.7 344.8,450.8 344.3,448.3 343.8,446.8 343.3,446.5 342.8,447.5 342.3,447.9 341.8,445.6 341.3,443.2 340.8,444.8 340.3,446.4 339.8,444.9 339.3,442.7 338.8,442.0 338.3,442.5 337.8,442.8 337.3,444.4 336.8,446.2 336.3,447.4 335.8,448.7 335.3,450.8 334.8,452.9 334.3,452.9 333.8,450.7 333.3,448.1 332.8,445.7 332.3,444.0 331.8,444.1 331.3,445.2 330.8,448.0 330.3,450.9 329.8,451.3 329.3,451.1 328.8,449.7 328.3,447.9 327.8,447.1 327.3,447.0 326.8,447.5 326.3,448.4 325.8,449.0 325.3,448.6 324.8,448.1 324.3,449.5 323.8,450.6 323.3,451.3 322.8,452.1 322.3,450.6 321.8,447.9 321.3,447.3 320.8,448.6 320.3,450.1 319.8,452.4 319.3,454.6 318.8,457.0 318.3,459.1 317.8,458.3 317.3,456.7 316.8,456.2 316.3,456.5 315.8,457.4 315.3,459.2 314.8,459.9 314.3,458.8 313.8,457.7 313.3,455.6 312.8,453.7 312.3,453.8 311.8,454.5 311.3,454.0 310.8,452.7 310.3,452.3 309.8,452.9 309.3,453.1 308.8,451.8 308.3,450.5 307.8,451.8 307.3,453.1 306.8,452.8 306.3,452.6 305.8,454.2 305.3,456.5 304.8,459.1 304.3,462.4 303.8,465.1 303.3,465.4 302.8,465.2 302.3,466.3 301.8,467.1 301.3,466.0 300.8,464.9 300.3,464.3 299.8,463.3 299.3,463.2 298.8,464.8 298.3,465.9 297.8,466.5 297.3,466.9 296.8,467.5 296.3,468.1 295.8,468.1 295.3,468.7 294.8,469.4 294.3,470.0 293.8,470.1 293.3,469.4 292.8,468.0 292.3,467.4 291.8,466.9 291.3,468.8 290.8,470.7 290.3,469.3 289.8,467.8 289.3,468.9 288.8,471.5 288.3,473.6 287.8,475.1 287.3,476.7 286.8,478.2 286.3,479.0 285.8,479.6 285.3,480.2 284.8,479.7 284.3,478.9 283.8,478.2 283.3,476.8 282.8,475.1 282.3,473.6 281.8,472.6 281.3,473.0 280.8,474.4 280.3,474.4 279.8,474.4 279.3,474.8 278.8,475.3 278.3,475.6 277.8,475.9 277.3,475.2 276.8,473.3 276.3,471.8 275.8,472.4 275.3,473.0 274.8,473.4 274.3,475.2 273.8,478.5 273.3,482.1 272.8,483.6 272.3,483.6 271.8,484.4 271.3,485.8 270.8,484.8 270.3,485.1 269.8,485.4 269.3,483.2 268.8,483.0 268.3,483.7 267.8,484.6 267.3,486.0 266.8,487.2 266.3,487.0 265.8,486.2 265.3,485.6 264.8,486.1 264.3,486.7 263.8,486.6 263.3,486.9 262.8,488.9 262.3,491.3 261.8,493.1 261.3,493.6 260.8,493.8 260.3,493.6 259.8,493.0 259.3,490.7 258.8,488.7 258.3,489.3 257.8,489.8 257.3,492.4 256.8,495.5 256.3,496.7 255.8,496.5 255.3,497.0 254.8,497.8 254.3,498.9 253.8,500.4 253.3,502.0 252.8,499.8 252.3,497.5 251.8,496.5 251.3,495.6 250.8,495.1 250.3,494.9 249.8,494.3 249.3,493.9 248.8,493.8 248.3,493.6 247.8,493.4 247.3,494.9 246.8,496.1 246.3,495.2 245.8,493.8 245.3,493.1 244.8,493.0 244.3,493.3 243.8,494.1 243.3,495.1 242.8,497.2 242.3,499.3 241.8,502.4 241.3,505.4 240.8,507.5 240.3,509.3 239.8,509.9 239.3,508.6 238.8,506.6 238.3,503.9 237.8,502.8 237.3,506.0 236.8,509.4 236.3,510.5 235.8,511.5 235.3,511.0 234.8,509.5 234.3,508.0 233.8,506.6 233.3,506.3 232.8,507.9 232.3,509.3 231.8,507.9 231.3,506.4 230.8,507.2 230.3,507.8 229.8,507.4 229.3,506.6 228.8,507.3 228.3,508.8 227.8,508.5 227.3,505.9 226.8,505.3 226.3,508.0 225.8,510.7 225.3,510.1 224.8,509.6 224.3,511.2 223.8,513.1 223.3,513.7 222.8,513.7 222.3,513.5 221.8,512.8 221.3,512.2 220.8,511.8 220.3,510.7 219.8,510.4 219.3,510.0 218.8,508.6 218.3,507.2 217.8,506.1 217.3,505.1 216.8,505.1 216.3,506.7 215.8,507.7 215.3,506.5 214.8,505.3 214.3,506.3 213.8,507.3 213.3,507.2 212.8,506.7 212.3,505.4 211.8,504.3 211.3,505.0 210.8,507.1 210.3,509.4 209.8,512.4 209.3,515.3 208.8,516.1 208.3,515.8 207.8,514.3 207.3,512.9 206.8,512.0 206.3,512.4 205.8,513.2 205.3,512.8 204.8,512.5 204.3,513.3 203.8,513.2 203.3,512.4 202.8,511.6 202.3,510.9 201.8,510.2 201.3,510.4 200.8,512.4 200.3,513.7 199.8,513.9 199.3,514.1 198.8,514.1 198.3,513.1 197.8,512.9 197.3,512.7 196.8,510.6 196.3,507.9 195.8,507.2 195.3,508.1 194.8,509.4 194.3,511.0 193.8,512.4 193.3,513.1 192.8,513.8 192.3,514.4 191.8,514.5 191.3,514.4 190.8,514.3 190.3,514.7 189.8,515.3 189.3,515.2 188.8,512.9 188.3,510.7 187.8,509.4 187.3,508.1 186.8,508.4 186.3,509.6 185.8,508.4 185.3,506.7 184.8,506.8 184.3,508.0 183.8,508.6 183.3,508.1 182.8,507.4 182.3,505.6 181.8,503.9 181.3,502.9 180.8,502.0 180.3,503.8 179.8,507.4 179.3,509.7 178.8,511.2 178.3,512.6 177.8,514.0 177.3,515.3 176.8,514.7 176.3,512.2 175.8,511.8 175.3,511.4 174.8,509.6 174.3,508.6 173.8,510.1 173.3,513.2 172.8,515.0 172.3,514.2 171.8,512.8 171.3,512.4 170.8,511.9 170.3,510.7 169.8,509.8 169.3,509.9 168.8,510.1 168.3,510.7 167.8,511.6 167.3,511.5 166.8,509.5 166.3,508.0 165.8,508.8 165.3,509.6 164.8,509.7 164.3,510.5 163.8,509.5 163.3,508.0 162.8,509.4 162.3,512.7 161.8,514.3 161.3,513.5 160.8,512.5 160.3,511.8 159.8,511.0 159.3,510.9 158.8,510.8 158.3,512.5 157.8,514.4 157.3,512.8 156.8,509.4 156.3,507.4 155.8,507.6 155.3,507.9 154.8,508.4 154.3,509.0 153.8,506.6 153.3,504.1 152.8,504.1 152.3,504.7 151.8,505.0 151.3,505.3 150.8,504.7 150.3,502.7 149.8,501.5 149.3,503.3 148.8,505.9 148.3,506.7 147.8,507.5 147.3,508.7 146.8,510.0 146.3,511.0 145.8,511.9 145.3,511.7 144.8,510.5 144.3,509.5 143.8,509.3 143.3,510.3 142.8,509.9 142.3,509.6 141.8,511.5 141.3,514.0 140.8,514.5 140.3,513.7 139.8,512.5 139.3,510.6 138.8,509.1 138.3,509.7 137.8,511.0 137.3,510.6 136.8,510.2 136.3,510.2 135.8,509.9 135.3,510.0 134.8,510.7 134.3,510.3 133.8,508.5 133.3,506.7 132.8,505.9 132.3,506.0 131.8,507.5 131.3,509.0 130.8,510.7 130.3,512.4 129.8,513.2 129.3,513.0 128.8,512.6 128.3,512.8 127.8,512.7 127.3,511.7 126.8,510.7 126.3,510.5 125.8,509.6 125.3,507.9 124.8,506.1 124.3,505.0 123.8,504.7 123.3,504.7 122.8,504.1 122.3,503.7 121.8,503.6 121.3,503.3" fill="#0072B2" fill-opacity="0.2" stroke="#0072B2" stroke-opacity="0.2" stroke-width="2.6" stroke-linejoin="round"/>
<g fill="#000">

<path d="M559.3 385.8h0M559.4 405.2h0M560.7 388.3h0M560.2 395.5h0M559.8 397.5h0M560.0 386.3h0M560.3 388.6h0M559.6 403.9h0M563.8 383.8h0M562.5 402.2h0M563.1 386.3h0M563.0 398.3h0M562.8 396.2h0M563.1 393.2h0M562.6 398.9h0M563.5 393.9h0M565.4 379.8h0M566.3 405.2h0M565.5 401.9h0M566.6 383.0h0M565.5 391.7h0M565.3 386.8h0M565.5 381.9h0M565.8 402.6h0M566.0 390.7h0M568.3 387.8h0M569.6 407.2h0M569.1 405.4h0M568.7 401.3h0M568.7 394.4h0M568.3 388.1h0M568.5 390.9h0M568.2 407.2h0M569.5 396.7h0M568.9 401.2h0M568.4 388.8h0M571.7 364.8h0M571.6 402.2h0M572.8 392.5h0M572.7 372.1h0M571.7 367.1h0M571.9 387.2h0M571.7 398.3h0M572.4 365.8h0M571.3 394.9h0M571.3 371.9h0M571.8 368.2h0M571.6 365.4h0M572.6 375.7h0M572.4 392.0h0M572.1 383.2h0M572.3 396.7h0M572.3 372.9h0M574.4 350.8h0M574.6 382.2h0M574.8 375.4h0M574.3 380.0h0M575.6 355.5h0M575.2 370.5h0M574.5 355.3h0M575.0 364.7h0M574.3 375.5h0M575.2 378.9h0M574.6 374.7h0M574.3 351.9h0M574.4 362.1h0M575.1 355.9h0M575.2 382.2h0M578.1 345.8h0M578.7 365.2h0M578.7 352.1h0M578.3 358.3h0M577.3 352.6h0M578.5 348.3h0M578.3 351.9h0M577.4 353.5h0M577.9 363.5h0M577.3 348.0h0M578.5 347.4h0M580.4 340.8h0M580.8 361.2h0M581.0 355.5h0M580.7 357.2h0M581.2 356.3h0M581.2 346.2h0M580.6 356.9h0M581.2 345.9h0M583.7 334.8h0M584.1 361.2h0M583.2 344.2h0M583.4 354.2h0M584.5 342.4h0M584.5 355.9h0M584.2 345.8h0M584.6 349.4h0M584.4 352.6h0M583.7 348.5h0M584.2 341.6h0M583.7 360.7h0M584.4 337.3h0M587.0 294.8h0M587.0 359.2h0M586.4 319.6h0M587.0 304.6h0M587.6 351.3h0M586.5 339.3h0M586.2 342.8h0M586.3 330.8h0M586.9 345.2h0M587.8 323.6h0M586.3 331.2h0M587.8 298.8h0M587.1 330.6h0M586.4 347.3h0M586.9 340.3h0M586.5 346.6h0M587.3 326.7h0M587.1 351.6h0M586.7 301.7h0M586.6 351.2h0M587.6 318.7h0M587.4 300.6h0M586.9 334.7h0M586.8 324.1h0M587.4 322.4h0M587.8 349.7h0M586.3 303.6h0M586.5 334.5h0M586.8 321.4h0M589.8 289.8h0M590.6 317.2h0M590.7 303.7h0M589.9 291.7h0M590.4 291.2h0M589.8 295.8h0M589.4 300.4h0M590.1 310.1h0M589.3 306.5h0M590.3 290.6h0M590.5 291.0h0M590.7 302.2h0M589.9 313.8h0M589.4 314.9h0M592.7 289.8h0M593.4 313.2h0M592.7 311.0h0M593.3 310.2h0M593.0 312.5h0M592.9 303.7h0M593.7 305.6h0M592.5 298.5h0M593.0 294.1h0M595.8 288.8h0M595.4 309.2h0M595.3 292.0h0M595.8 308.0h0M596.1 298.8h0M596.0 295.6h0M596.6 292.2h0M596.7 300.9h0M598.8 286.8h0M598.3 303.2h0M599.5 302.2h0M598.6 299.9h0M598.2 294.6h0M598.9 295.4h0M599.3 293.3h0M602.2 228.8h0M601.6 271.2h0M601.3 247.3h0M601.4 244.2h0M601.8 256.7h0M601.7 235.7h0M602.1 229.2h0M602.6 253.9h0M601.8 251.3h0M601.5 265.5h0M602.1 246.4h0M601.2 262.2h0M601.8 229.5h0M601.7 229.9h0M602.2 288.8h0M602.4 295.2h0M602.7 291.3h0M601.8 289.1h0M602.3 292.4h0M604.9 226.8h0M605.0 269.2h0M605.4 245.5h0M604.3 235.9h0M605.3 264.5h0M604.3 258.5h0M604.6 266.8h0M605.4 261.7h0M605.3 265.7h0M604.8 232.2h0M604.7 227.4h0M605.5 235.2h0M604.6 244.3h0M604.2 256.0h0M607.4 225.8h0M607.8 261.2h0M607.2 234.5h0M607.6 226.5h0M608.7 254.5h0M607.6 230.1h0M607.6 260.3h0M608.3 233.3h0M608.6 236.6h0M607.7 246.5h0M607.8 236.7h0M608.3 239.2h0M610.4 228.8h0M611.6 259.2h0M611.3 252.9h0M611.1 247.5h0M611.3 234.2h0M610.8 234.3h0M610.7 251.9h0M611.1 250.3h0M611.0 256.1h0M611.3 252.5h0M611.7 241.6h0M610.8 267.8h0M611.5 279.2h0M610.3 277.5h0M610.9 272.2h0M611.0 272.0h0M611.5 278.4h0M614.7 232.8h0M613.5 255.2h0M614.0 252.5h0M613.7 236.2h0M614.2 246.6h0M614.2 246.9h0M614.0 236.2h0M613.7 251.5h0M614.0 245.2h0M614.2 264.8h0M614.8 297.2h0M613.5 276.8h0M614.7 293.7h0M614.4 279.7h0M614.1 280.2h0M614.3 273.2h0M614.4 273.0h0M613.9 295.8h0M614.2 275.0h0M613.6 293.0h0M616.5 268.8h0M616.5 300.2h0M616.6 269.4h0M616.8 290.1h0M616.4 283.7h0M616.4 297.3h0M616.2 277.1h0M617.7 294.5h0M616.8 299.8h0M617.2 297.0h0M616.9 299.1h0M620.1 214.8h0M619.7 247.2h0M619.7 238.9h0M620.5 240.9h0M619.2 227.2h0M619.2 232.1h0M619.3 217.9h0M620.6 224.0h0M620.2 222.0h0M620.4 224.8h0M620.7 225.3h0M623.6 210.8h0M622.7 265.2h0M623.8 222.6h0M622.9 260.9h0M622.5 224.0h0M623.0 239.0h0M623.1 247.9h0M623.3 254.2h0M623.3 224.3h0M622.3 236.7h0M623.2 213.2h0M623.7 226.4h0M623.3 264.2h0M623.8 260.1h0M623.0 242.5h0M623.5 253.6h0M625.9 189.8h0M626.2 265.2h0M625.6 200.3h0M626.6 257.4h0M625.7 222.7h0M625.4 255.9h0M625.8 214.0h0M626.7 236.9h0M625.5 253.7h0M625.6 243.5h0M626.7 236.6h0M625.8 263.0h0M626.5 196.4h0M625.3 197.5h0M626.6 231.4h0M625.6 261.8h0M625.5 241.6h0M626.4 213.1h0M626.8 197.9h0M626.7 223.6h0M626.4 226.0h0M629.1 189.8h0M628.3 259.2h0M628.3 253.3h0M629.4 258.4h0M628.5 228.2h0M629.5 199.8h0M628.9 248.8h0M628.2 217.3h0M629.1 211.5h0M628.9 224.6h0M628.3 192.2h0M628.6 191.0h0M628.7 208.1h0M628.8 231.2h0M629.3 241.8h0M628.5 256.3h0M628.9 246.6h0M629.2 255.2h0M629.7 234.0h0M628.4 240.8h0M631.4 208.8h0M631.6 247.2h0M631.5 211.8h0M632.0 216.1h0M632.6 217.2h0M632.3 215.0h0M631.5 211.7h0M631.3 216.8h0M631.3 217.3h0M631.9 227.2h0M631.8 233.7h0M632.3 222.8h0M631.3 215.2h0M635.1 208.8h0M635.4 249.2h0M635.3 219.1h0M634.4 236.5h0M635.2 231.8h0M634.7 229.7h0M634.8 245.3h0M634.5 213.3h0M634.2 216.7h0M635.6 231.7h0M635.3 231.6h0M635.4 248.4h0M634.7 248.3h0M638.3 204.8h0M638.0 261.2h0M637.9 228.3h0M637.4 214.7h0M637.7 238.8h0M638.6 252.2h0M638.8 248.8h0M637.8 257.5h0M638.6 219.5h0M638.6 244.4h0M637.5 211.9h0M637.6 235.1h0M638.3 211.0h0M637.7 235.3h0M638.7 235.4h0M637.8 224.4h0M638.4 224.5h0M640.5 208.8h0M640.9 261.2h0M640.8 245.9h0M640.8 220.0h0M641.6 254.2h0M641.1 226.0h0M641.2 214.5h0M640.8 211.4h0M641.5 232.5h0M641.0 242.0h0M641.4 223.0h0M641.7 253.0h0M641.2 222.8h0M640.9 253.2h0M640.6 210.5h0M641.7 222.5h0M644.4 207.8h0M643.2 252.2h0M643.7 241.8h0M644.4 243.3h0M643.5 217.6h0M644.1 227.2h0M644.5 247.1h0M644.1 218.7h0M643.4 244.0h0M644.7 231.7h0M644.4 217.5h0M644.1 224.5h0M643.7 211.1h0M644.1 237.7h0M646.8 196.8h0M646.3 235.2h0M646.9 211.8h0M646.3 201.3h0M646.3 201.5h0M646.4 198.5h0M646.8 203.3h0M647.4 206.2h0M646.7 221.2h0M647.4 219.1h0M646.6 219.5h0M646.7 228.4h0M647.0 200.4h0M650.7 177.8h0M650.2 225.2h0M650.8 181.3h0M649.6 199.1h0M650.3 205.5h0M650.1 216.9h0M650.0 180.4h0M650.2 215.7h0M650.1 204.8h0M649.7 205.2h0M650.2 180.2h0M649.3 219.5h0M650.0 190.9h0M649.9 203.7h0M649.5 203.3h0M652.8 154.8h0M652.7 217.2h0M653.0 190.3h0M653.1 196.6h0M653.2 162.6h0M653.3 173.3h0M652.6 158.6h0M652.3 192.1h0M652.6 159.9h0M652.7 169.1h0M653.2 182.7h0M652.9 183.0h0M652.7 156.8h0M652.4 214.0h0M653.2 169.1h0M652.4 192.9h0M653.0 168.6h0M653.3 192.0h0M655.2 151.8h0M656.6 192.2h0M656.5 177.0h0M655.8 158.2h0M656.1 166.2h0M656.0 189.9h0M656.8 155.4h0M655.3 179.2h0M655.7 169.4h0M655.9 176.6h0M656.5 167.7h0M656.4 156.8h0M655.9 174.5h0M658.8 154.8h0M659.7 189.2h0M659.0 155.2h0M658.6 177.1h0M659.0 168.8h0M659.7 158.8h0M659.6 176.5h0M659.3 170.1h0M659.6 165.3h0M659.4 164.0h0M659.3 172.7h0M658.9 163.3h0M662.7 160.8h0M662.3 207.2h0M661.4 167.7h0M661.2 194.8h0M661.6 190.2h0M662.7 205.8h0M662.5 175.7h0M661.9 201.5h0M662.4 170.9h0M662.6 204.8h0M661.7 207.1h0M662.6 162.9h0M661.6 175.8h0M661.7 207.2h0M665.4 162.8h0M665.4 209.2h0M665.3 164.8h0M665.1 170.2h0M664.7 188.4h0M664.5 163.9h0M665.6 188.1h0M664.9 170.7h0M665.2 197.6h0M664.3 168.7h0M664.8 172.4h0M664.4 175.3h0M664.8 189.8h0M665.4 200.3h0M668.6 162.8h0M668.5 192.2h0M667.2 172.8h0M668.0 182.9h0M667.8 166.4h0M668.1 174.1h0M667.3 174.8h0M668.4 177.8h0M667.9 169.5h0M668.7 183.4h0M670.9 160.8h0M670.6 189.2h0M671.7 161.3h0M671.5 172.7h0M670.8 174.6h0M671.1 184.4h0M671.7 182.3h0M670.5 165.9h0M671.7 169.5h0M671.6 181.7h0M674.1 130.8h0M674.3 149.2h0M674.0 144.2h0M674.3 143.4h0M673.9 143.4h0M674.5 140.8h0M674.4 141.5h0M673.3 134.4h0M673.7 162.8h0M673.5 182.2h0M674.4 177.8h0M673.8 168.3h0M674.6 164.3h0M673.6 165.1h0M674.3 169.1h0M673.8 173.0h0M677.5 110.8h0M676.2 137.2h0M676.3 133.3h0M677.1 127.9h0M677.0 128.7h0M677.5 113.2h0M676.6 130.7h0M676.9 120.1h0M677.8 130.4h0M676.7 133.1h0M676.8 114.0h0M677.2 111.2h0M677.8 130.8h0M676.5 136.4h0M677.3 134.6h0M676.9 122.3h0M679.6 94.8h0M679.4 122.2h0M679.8 105.8h0M679.7 101.8h0M679.8 107.5h0M680.6 110.6h0M679.7 105.5h0M679.4 108.7h0M679.5 112.2h0M680.7 118.2h0M679.9 110.2h0M679.8 105.3h0M680.4 121.2h0M680.7 99.5h0M680.0 96.0h0M680.5 119.7h0M683.4 72.8h0M683.1 109.2h0M682.8 82.4h0M683.7 85.5h0M683.7 93.8h0M682.7 81.4h0M683.5 82.8h0M684.2 79.6h0M682.7 82.3h0M682.9 103.4h0M682.8 101.8h0M683.4 76.9h0M683.3 85.5h0M684.1 99.1h0M682.8 104.1h0M683.0 93.2h0M684.2 99.3h0M682.7 81.4h0M683.1 101.3h0M683.3 102.7h0M686.6 52.8h0M686.7 97.2h0M687.2 52.8h0M686.1 65.5h0M686.9 79.6h0M685.7 80.1h0M686.0 79.8h0M687.2 81.7h0M686.1 80.1h0M686.5 54.3h0M687.2 81.9h0M686.7 78.7h0M686.5 62.4h0M686.8 71.4h0M687.3 63.3h0M687.2 91.4h0M686.0 65.2h0M685.9 60.0h0M686.2 88.2h0M685.9 86.6h0M686.9 90.7h0M687.0 82.9h0M685.9 71.3h0M685.8 73.9h0M689.7 39.8h0M690.0 89.2h0M689.7 55.8h0M690.0 73.8h0M690.3 77.9h0M689.8 62.6h0M690.1 71.4h0M690.3 85.2h0M689.9 83.3h0M690.0 45.6h0M688.8 75.1h0M688.8 78.2h0M690.2 84.7h0M689.1 60.4h0M689.2 47.5h0M688.9 63.2h0M689.7 58.1h0M688.7 59.2h0M690.0 79.5h0M689.2 72.0h0M689.9 73.4h0M690.2 72.1h0M689.8 46.8h0M689.4 42.6h0M689.7 59.3h0M690.1 81.8h0M692.6 62.8h0M692.3 89.2h0M691.4 81.6h0M691.8 69.4h0M691.4 63.0h0M692.3 86.1h0M692.6 79.3h0M691.3 64.4h0M692.0 77.4h0M691.6 78.4h0M691.7 70.5h0M692.4 86.2h0M692.8 69.1h0M691.6 66.6h0M692.1 70.9h0M691.7 71.7h0M694.3 98.8h0M694.2 115.2h0M694.1 99.8h0M693.5 108.7h0M694.5 101.3h0M693.8 110.1h0M694.4 111.1h0M694.0 101.1h0M693.9 108.6h0M694.3 102.2h0M693.7 111.3h0M694.4 103.5h0M700.2 41.8h0M699.9 122.2h0M700.2 77.6h0M700.0 101.4h0M701.2 97.9h0M700.1 117.8h0M700.3 74.6h0M700.6 69.8h0M700.1 121.8h0M700.5 83.3h0M700.6 75.4h0M699.8 98.2h0M701.2 61.9h0M700.6 118.8h0M699.9 102.4h0M701.3 94.0h0M700.0 65.2h0M700.9 106.9h0M700.5 115.7h0M700.1 105.5h0M700.3 115.2h0M700.5 49.2h0M700.3 101.4h0M700.1 111.5h0M700.4 80.1h0M700.4 48.2h0M700.8 85.4h0M700.0 61.3h0M699.8 44.4h0M701.0 117.1h0M699.8 108.8h0M700.7 92.8h0M700.6 102.0h0M701.3 95.8h0M700.0 79.0h0M701.1 51.5h0M699.9 65.0h0M700.0 82.5h0M700.7 88.6h0M703.3 46.8h0M703.7 147.2h0M702.8 63.4h0M702.9 105.7h0M703.1 114.6h0M703.1 59.4h0M703.4 126.2h0M703.1 89.3h0M704.2 143.9h0M703.4 47.9h0M703.3 54.6h0M704.1 109.1h0M704.0 72.6h0M703.9 87.2h0M704.2 138.1h0M703.9 81.3h0M703.2 51.9h0M704.2 61.1h0M702.7 102.6h0M704.1 124.6h0M703.4 122.9h0M703.2 94.1h0M703.5 70.8h0M703.3 59.7h0M704.1 69.2h0M704.0 66.9h0M703.9 137.9h0M703.1 87.7h0M703.4 58.5h0M702.8 110.9h0M703.9 92.7h0M702.8 49.7h0M703.3 145.2h0M702.9 141.9h0M704.1 73.1h0M704.2 130.5h0M703.2 92.5h0M704.1 114.5h0M703.0 112.4h0M703.8 120.3h0M703.1 91.0h0M703.4 61.5h0M703.7 127.6h0M703.3 91.0h0M703.0 91.2h0M703.6 123.1h0M704.0 115.6h0M704.3 146.1h0M707.2 82.8h0M705.8 147.2h0M705.7 103.5h0M705.7 99.4h0M706.1 87.7h0M706.0 96.0h0M707.2 84.4h0M706.9 98.9h0M707.2 129.6h0M706.6 90.1h0M707.0 124.4h0M706.8 101.8h0M706.2 97.5h0M706.7 113.9h0M706.2 110.9h0M706.4 111.6h0M707.0 90.3h0M706.1 119.2h0M706.0 140.9h0M707.1 83.3h0M706.4 88.0h0M706.0 120.5h0M706.2 103.3h0M706.1 99.0h0M707.1 146.5h0M706.5 102.6h0M707.2 142.1h0M706.5 122.5h0M707.2 84.7h0M707.2 99.9h0M706.6 87.6h0M707.0 117.4h0M710.2 87.8h0M708.8 187.2h0M708.8 116.3h0M709.8 99.2h0M709.7 147.9h0M710.0 93.2h0M709.0 134.3h0M709.5 149.4h0M710.0 164.1h0M709.3 177.0h0M709.3 108.1h0M708.8 173.9h0M710.0 137.1h0M709.4 149.7h0M709.3 133.7h0M709.7 172.1h0M710.1 117.6h0M710.1 88.6h0M709.2 170.3h0M709.7 153.6h0M709.3 159.0h0M710.0 100.1h0M710.0 108.3h0M709.8 150.0h0M710.0 162.1h0M709.5 153.5h0M709.6 147.1h0M709.0 152.9h0M709.8 102.5h0M709.2 132.6h0M709.6 120.5h0M708.7 161.0h0M709.3 139.2h0M709.7 159.4h0M709.7 156.9h0M709.6 177.8h0M709.1 172.9h0M709.7 92.9h0M709.8 154.2h0M709.6 124.9h0M709.3 97.8h0M708.9 135.3h0M709.6 171.7h0M708.8 167.0h0M710.2 98.3h0M709.3 107.9h0M709.2 156.9h0M711.8 102.8h0M711.9 207.2h0M711.8 149.8h0M712.4 113.6h0M713.0 195.1h0M711.8 205.1h0M712.3 188.8h0M712.3 162.7h0M712.3 201.1h0M712.5 137.3h0M712.6 151.4h0M712.0 120.7h0M713.0 147.1h0M712.5 199.7h0M712.3 172.1h0M713.2 159.8h0M712.8 158.8h0M712.0 169.1h0M713.3 166.5h0M712.6 150.0h0M712.2 156.1h0M712.1 113.3h0M711.8 149.1h0M712.1 173.3h0M712.2 126.1h0M712.3 131.7h0M713.3 186.9h0M712.6 117.0h0M712.0 123.2h0M712.3 188.3h0M712.4 115.4h0M711.8 134.2h0M712.4 197.9h0M712.5 145.9h0M713.2 188.2h0M712.4 182.6h0M712.8 104.8h0M712.8 125.7h0M712.0 198.0h0M712.6 136.3h0M712.4 145.0h0M712.0 200.4h0M711.7 114.2h0M713.3 204.3h0M711.8 170.3h0M713.1 168.4h0M712.3 102.8h0M711.8 168.7h0M713.2 188.7h0M712.8 143.9h0M715.5 162.8h0M715.6 212.2h0M715.9 182.8h0M715.7 204.2h0M714.8 197.8h0M714.8 183.3h0M715.1 198.3h0M716.0 199.3h0M715.1 171.3h0M715.2 198.2h0M716.0 208.1h0M714.9 196.8h0M715.1 202.3h0M715.1 211.8h0M714.8 202.2h0M718.6 164.8h0M718.2 207.2h0M718.4 196.3h0M717.7 178.4h0M717.7 182.1h0M718.5 178.9h0M719.0 167.5h0M719.3 200.7h0M719.0 170.5h0M718.5 176.9h0M718.7 195.4h0M718.8 179.6h0M718.9 186.3h0M719.3 178.8h0M721.6 127.8h0M722.3 197.2h0M721.9 151.6h0M720.8 158.8h0M722.0 181.9h0M722.0 142.8h0M722.1 134.4h0M721.7 190.2h0M720.8 128.9h0M722.1 189.9h0M721.4 191.3h0M721.0 139.3h0M721.0 180.2h0M721.0 147.8h0M722.0 146.6h0M720.8 196.1h0M722.2 189.4h0M720.7 180.9h0M721.9 158.1h0M721.1 196.3h0M725.2 120.8h0M725.1 165.2h0M724.8 143.7h0M724.5 128.6h0M725.2 160.8h0M724.4 127.7h0M723.7 141.5h0M724.4 147.8h0M724.5 140.9h0M724.6 130.4h0M725.1 133.7h0M723.8 162.3h0M725.1 126.3h0M724.5 121.5h0M727.4 120.8h0M727.3 222.2h0M727.0 195.1h0M727.6 162.7h0M727.4 150.8h0M728.2 154.8h0M727.7 148.6h0M728.3 166.8h0M728.1 181.4h0M727.5 205.1h0M726.7 138.5h0M727.0 166.4h0M726.9 174.8h0M727.9 203.8h0M726.9 192.8h0M727.7 184.0h0M727.2 189.2h0M727.5 166.2h0M727.9 202.6h0M727.2 205.7h0M727.0 178.2h0M727.2 132.6h0M728.2 164.0h0M727.6 147.6h0M727.2 140.2h0M726.9 150.9h0M726.8 203.9h0M727.2 156.1h0M729.9 142.8h0M730.3 232.2h0M730.4 197.7h0M731.0 183.6h0M730.4 215.4h0M730.6 231.8h0M730.8 193.8h0M730.8 173.6h0M731.2 213.9h0M730.4 150.7h0M730.6 210.7h0M729.7 221.7h0M730.0 212.2h0M730.1 151.6h0M730.0 194.8h0M730.5 214.5h0M730.0 179.6h0M730.6 218.3h0M731.0 157.6h0M729.8 190.1h0M730.1 192.7h0M730.5 213.3h0M729.8 179.6h0M729.9 165.9h0M730.6 206.5h0M733.4 167.8h0M733.2 235.2h0M733.6 194.7h0M733.7 228.8h0M732.9 206.3h0M733.6 218.9h0M733.0 191.1h0M734.2 193.2h0M733.6 225.4h0M733.0 209.3h0M732.8 229.5h0M733.0 184.8h0M733.2 175.5h0M733.6 213.5h0M733.8 176.2h0M733.8 172.9h0M733.4 194.1h0M733.7 214.1h0M733.6 192.1h0M733.2 218.6h0M737.2 177.8h0M736.1 233.2h0M737.3 189.9h0M735.8 199.9h0M736.7 216.0h0M736.1 185.2h0M735.9 213.0h0M736.6 178.9h0M736.0 187.9h0M737.0 214.9h0M736.4 222.6h0M736.1 220.3h0M735.7 215.7h0M736.8 191.9h0M736.7 232.6h0M737.0 211.1h0M736.3 228.3h0M740.0 197.8h0M738.9 232.2h0M739.2 229.3h0M740.1 198.6h0M739.5 229.4h0M738.9 224.1h0M738.8 201.3h0M738.9 231.8h0M738.9 200.8h0M739.3 223.7h0M739.9 206.2h0M739.4 221.6h0M742.2 172.8h0M742.3 234.2h0M741.3 178.8h0M742.7 194.4h0M741.2 202.5h0M741.5 200.3h0M742.0 212.2h0M742.1 214.6h0M741.5 218.7h0M741.7 205.7h0M742.7 174.6h0M741.7 220.1h0M741.9 220.9h0M741.4 217.6h0M742.1 199.7h0M742.3 227.3h0M742.4 178.7h0M741.6 218.3h0M742.4 168.8h0M743.2 207.2h0M743.4 183.0h0M742.5 193.9h0M742.7 206.2h0M742.6 198.4h0M742.2 177.2h0M743.3 171.3h0M742.3 181.4h0M743.2 189.1h0M743.2 179.2h0M743.0 199.2h0M742.3 178.6h0M745.2 168.8h0M745.5 242.2h0M745.3 171.5h0M745.4 206.6h0M746.4 204.8h0M745.9 169.9h0M746.5 169.5h0M746.8 225.6h0M745.5 192.6h0M746.4 221.4h0M746.8 183.3h0M745.7 188.3h0M745.3 234.8h0M745.9 183.3h0M746.1 198.8h0M746.3 205.4h0M746.1 221.1h0M745.7 192.3h0M745.5 216.5h0M745.7 185.1h0M746.0 218.8h0M749.4 182.8h0M748.6 247.2h0M748.8 194.7h0M748.4 202.0h0M749.1 239.8h0M748.9 210.1h0M748.3 190.8h0M748.6 225.7h0M748.8 205.6h0M749.1 216.0h0M748.3 208.1h0M749.2 190.2h0M749.5 230.3h0M748.7 219.4h0M748.3 246.5h0M748.4 183.1h0M749.4 220.0h0M749.1 210.2h0M748.4 210.8h0M752.1 207.8h0M751.9 247.2h0M752.3 214.4h0M751.9 240.7h0M751.9 234.6h0M751.4 235.2h0M752.5 213.3h0M751.3 246.9h0M752.7 217.8h0M752.7 221.7h0M752.0 217.0h0M751.5 245.0h0M751.5 232.7h0M754.7 242.8h0M754.7 269.2h0M755.3 246.5h0M755.6 261.3h0M755.0 252.4h0M754.4 268.8h0M755.5 292.8h0M755.3 319.2h0M755.1 297.3h0M755.5 311.7h0M754.5 313.0h0M754.4 319.0h0M754.7 307.9h0M757.0 252.8h0M758.2 315.2h0M757.3 276.8h0M758.1 312.1h0M757.7 304.3h0M756.8 299.3h0M757.4 308.5h0M757.9 276.7h0M757.2 314.3h0M757.2 309.5h0M756.8 264.3h0M757.5 276.4h0M758.2 272.0h0M760.7 227.8h0M761.0 297.2h0M760.8 229.1h0M760.2 289.4h0M760.2 269.4h0M760.2 247.2h0M760.6 290.2h0M761.0 292.2h0M759.7 295.4h0M760.7 259.9h0M761.1 256.6h0M760.6 273.9h0M760.3 289.5h0M760.5 252.1h0M760.5 250.8h0M760.7 256.2h0M759.8 229.2h0M761.0 286.1h0M760.6 259.6h0M760.1 260.2h0M763.4 227.8h0M763.6 282.2h0M763.7 277.6h0M763.4 249.5h0M763.9 270.0h0M764.1 244.0h0M764.2 257.6h0M763.6 238.1h0M764.2 242.7h0M764.2 245.7h0M763.7 235.6h0M762.9 269.2h0M763.7 252.3h0M763.5 246.7h0M763.8 259.6h0M763.1 240.3h0M766.2 217.8h0M766.7 267.2h0M766.9 266.9h0M765.8 234.9h0M767.0 267.2h0M767.0 231.4h0M766.6 241.4h0M767.2 251.5h0M766.8 230.6h0M766.3 237.9h0M767.0 250.5h0M766.5 255.0h0M766.8 263.1h0M767.3 245.1h0M766.8 265.4h0M769.4 192.8h0M769.2 259.2h0M769.9 244.4h0M768.8 247.0h0M769.9 206.1h0M770.2 195.3h0M768.9 197.8h0M770.0 223.7h0M768.7 257.0h0M768.9 222.4h0M769.2 254.2h0M770.3 212.2h0M768.8 202.2h0M769.4 219.8h0M769.4 248.9h0M769.0 257.1h0M770.3 228.6h0M769.1 218.0h0M770.1 245.1h0M772.9 167.8h0M772.4 237.2h0M773.1 205.5h0M772.6 217.3h0M772.8 219.4h0M771.7 214.6h0M772.5 224.0h0M771.8 229.0h0M772.0 177.6h0M772.2 173.9h0M772.6 199.3h0M771.8 175.2h0M772.8 208.8h0M772.3 233.2h0M772.0 203.5h0M773.2 179.4h0M772.8 175.9h0M772.2 204.7h0M771.9 219.4h0M772.5 223.8h0M775.1 132.8h0M776.0 142.2h0M775.0 140.1h0M776.3 137.6h0M775.9 135.7h0M775.3 133.8h0M775.9 162.8h0M775.5 232.2h0M775.1 175.9h0M776.1 195.1h0M775.6 228.9h0M775.7 171.0h0M776.0 179.7h0M775.8 168.1h0M775.1 213.1h0M776.2 228.8h0M775.0 201.4h0M775.0 183.4h0M775.7 229.7h0M775.6 203.6h0M775.1 229.5h0M775.8 188.7h0M774.9 172.9h0M775.5 167.6h0M776.2 181.3h0M776.1 192.9h0M778.4 107.8h0M778.6 142.2h0M779.1 128.6h0M779.0 135.1h0M778.3 130.6h0M778.5 115.8h0M777.8 137.4h0M778.7 128.8h0M779.0 128.3h0M778.0 140.6h0M778.7 127.0h0M777.9 119.0h0M778.4 172.8h0M778.0 222.2h0M778.9 214.3h0M777.8 208.9h0M778.0 219.0h0M778.9 186.8h0M778.5 181.2h0M777.9 201.0h0M779.3 175.6h0M778.3 213.4h0M778.4 182.9h0M778.9 179.3h0M778.5 180.1h0M779.0 207.6h0M778.6 175.2h0M782.5 87.8h0M782.0 137.2h0M782.3 99.9h0M781.4 114.3h0M782.5 129.3h0M781.8 101.6h0M782.6 119.2h0M781.6 116.4h0M781.2 122.1h0M781.7 105.6h0M782.4 99.0h0M782.4 120.6h0M782.6 129.7h0M781.5 111.1h0M782.2 94.5h0M784.2 52.8h0M785.2 137.2h0M784.3 58.9h0M785.0 71.7h0M784.2 56.6h0M785.7 105.9h0M785.0 128.4h0M785.0 103.5h0M784.3 103.7h0M785.5 129.1h0M784.6 80.6h0M785.0 99.8h0M785.4 121.2h0M785.5 69.2h0M784.8 112.2h0M784.3 59.3h0M785.8 84.0h0M784.6 68.4h0M784.3 89.3h0M785.2 70.0h0M785.6 57.9h0M784.3 90.3h0M784.3 85.7h0M785.3 114.8h0M787.6 45.8h0M787.4 142.2h0M787.5 101.0h0M788.6 70.7h0M788.3 71.3h0M787.4 119.8h0M787.7 47.8h0M787.6 69.0h0M787.4 80.7h0M788.5 120.5h0M787.7 76.1h0M788.1 51.0h0M787.8 117.5h0M787.3 112.2h0M787.3 58.0h0M788.3 116.0h0M788.2 105.9h0M788.0 81.3h0M787.5 101.5h0M787.7 94.3h0M788.0 122.3h0M787.5 137.6h0M788.1 78.6h0M788.5 54.5h0M787.5 80.9h0M788.7 103.6h0M791.5 62.8h0M790.3 147.2h0M790.9 105.7h0M790.4 145.4h0M791.6 144.5h0M791.3 68.1h0M790.5 120.4h0M790.8 83.3h0M790.4 115.2h0M791.6 137.9h0M791.6 101.5h0M791.6 117.9h0M791.2 119.2h0M790.6 78.6h0M790.9 98.7h0M791.3 87.3h0M790.9 103.6h0M790.3 127.2h0M791.0 75.0h0M790.3 109.5h0M790.6 105.3h0M791.5 95.3h0M791.2 133.9h0M791.5 92.3h0M794.5 90.8h0M794.7 149.2h0M794.3 130.5h0M794.5 129.2h0M794.5 105.2h0M793.4 132.2h0M793.7 98.1h0M794.2 91.8h0M793.7 110.6h0M794.6 99.9h0M793.3 131.4h0M793.4 107.5h0M793.7 92.8h0M793.7 136.1h0M794.5 145.4h0M793.2 132.3h0M794.5 146.6h0M796.9 97.8h0M797.0 147.2h0M797.6 145.9h0M797.6 100.2h0M796.4 144.9h0M797.4 130.4h0M797.5 104.3h0M797.7 138.9h0M796.8 103.6h0M797.7 116.8h0M797.1 109.6h0M796.9 116.8h0M797.0 105.0h0M796.9 116.5h0M797.3 125.9h0M800.1 107.8h0M800.5 149.2h0M800.3 129.8h0M800.2 144.2h0M799.6 127.2h0M800.1 109.9h0M799.6 114.3h0M799.3 124.9h0M800.4 127.3h0M800.2 141.5h0M800.8 132.3h0M800.4 114.8h0M799.6 120.3h0M800.0 160.5h0M799.8 160.5h0M799.3 160.5h0M799.3 160.5h0M799.8 160.5h0M803.0 102.8h0M802.5 147.2h0M802.8 129.0h0M802.8 110.6h0M802.7 110.7h0M803.7 113.1h0M802.8 135.8h0M802.4 136.8h0M803.1 124.4h0M803.6 105.2h0M802.6 144.6h0M803.0 141.4h0M802.8 116.2h0M803.3 103.1h0M807.7 95.8h0M807.1 147.2h0M807.7 111.8h0M806.8 108.9h0M807.7 145.2h0M807.0 138.2h0M807.4 132.0h0M806.6 129.5h0M807.0 143.8h0M807.1 98.7h0M807.0 118.4h0M807.7 127.8h0M806.9 102.4h0M807.6 147.0h0M806.4 131.1h0M806.5 134.8h0M810.6 97.8h0M809.4 172.2h0M809.8 110.8h0M809.3 111.4h0M810.5 141.4h0M810.6 105.3h0M809.7 147.9h0M810.5 162.7h0M810.7 166.5h0M809.6 101.9h0M810.7 116.1h0M809.7 130.6h0M810.3 98.8h0M810.1 147.9h0M809.8 131.6h0M810.2 129.6h0M809.2 109.3h0M810.0 102.9h0M810.0 163.6h0M810.2 142.3h0M810.4 123.6h0M813.3 132.8h0M813.1 195.2h0M813.2 187.8h0M812.4 182.9h0M813.5 187.2h0M813.5 156.2h0M813.5 139.4h0M812.8 173.4h0M812.6 135.6h0M813.1 192.4h0M813.3 162.9h0M813.4 148.8h0M812.9 134.7h0M813.2 185.4h0M813.2 184.9h0M813.1 141.1h0M813.3 181.0h0M812.7 138.2h0M815.2 172.8h0M816.2 202.2h0M816.6 179.7h0M816.7 181.3h0M815.9 196.1h0M816.0 201.3h0M816.5 182.1h0M816.7 192.1h0M815.6 189.9h0M816.6 198.7h0M819.3 217.8h0M819.2 259.2h0M818.9 222.7h0M818.9 219.9h0M819.4 219.1h0M819.0 220.9h0M819.4 221.7h0M818.2 227.5h0M818.4 229.7h0M818.5 258.0h0M819.1 251.0h0M819.1 222.0h0M819.6 225.8h0M822.3 220.8h0M822.5 265.2h0M821.5 260.2h0M821.7 256.7h0M822.8 235.5h0M822.1 223.4h0M822.0 260.1h0M822.1 262.2h0M822.1 221.8h0M822.4 220.9h0M822.6 228.7h0M822.2 236.8h0M822.2 252.2h0M822.1 241.1h0M825.2 224.8h0M824.2 269.2h0M825.6 235.4h0M825.0 258.8h0M825.7 233.6h0M824.4 236.2h0M825.7 239.9h0M825.2 248.1h0M825.2 261.2h0M825.0 240.6h0M825.7 251.6h0M825.5 244.1h0M825.0 244.6h0M824.8 267.8h0M827.7 228.8h0M827.7 267.2h0M827.3 243.7h0M828.4 247.1h0M828.7 235.7h0M827.4 237.7h0M828.0 254.2h0M828.5 258.4h0M828.6 263.7h0M827.8 234.8h0M827.3 240.6h0M828.4 235.9h0M828.3 252.9h0M831.8 234.8h0M830.5 259.2h0M831.4 244.5h0M831.1 258.8h0M830.8 252.3h0M831.1 248.7h0M830.4 249.2h0M830.8 236.7h0M830.7 258.3h0M835.5 242.8h0M835.7 267.2h0M835.7 259.4h0M835.0 255.7h0M835.1 243.4h0M835.2 249.8h0M835.0 252.2h0M834.3 251.6h0M834.4 262.0h0M837.1 252.8h0M837.1 282.2h0M837.4 276.2h0M837.0 275.0h0M837.9 261.9h0M836.9 258.6h0M837.5 269.5h0M837.8 277.8h0M838.0 254.4h0M837.6 272.0h0M841.1 251.8h0M839.7 287.2h0M840.6 256.4h0M840.7 280.5h0M841.2 285.1h0M839.7 252.8h0M840.3 284.2h0M839.9 273.8h0M840.2 273.0h0M841.2 265.5h0M840.0 257.5h0M840.3 273.1h0M843.7 254.8h0M843.1 286.2h0M844.2 280.6h0M843.6 278.4h0M842.9 283.6h0M844.0 258.7h0M843.5 257.0h0M843.9 261.7h0M843.6 270.3h0M844.1 276.2h0M843.2 258.4h0M847.2 247.8h0M846.9 279.2h0M846.6 278.3h0M846.4 248.3h0M846.0 259.6h0M846.0 252.7h0M846.4 278.9h0M846.7 248.4h0M847.1 256.8h0M846.1 260.0h0M847.1 250.1h0M851.1 220.8h0M850.7 259.2h0M850.9 246.2h0M850.4 226.9h0M850.4 222.0h0M851.0 221.7h0M850.0 257.9h0M849.8 230.2h0M851.2 223.3h0M850.3 246.1h0M850.6 231.4h0M850.3 257.1h0M850.9 246.3h0M854.1 202.8h0M853.1 247.2h0M853.4 237.3h0M854.1 210.9h0M853.9 237.1h0M854.1 216.9h0M853.7 228.1h0M853.3 224.3h0M854.0 240.4h0M853.3 221.3h0M853.6 239.5h0M853.0 244.6h0M853.3 228.3h0M853.4 239.1h0M857.5 190.8h0M857.6 237.2h0M857.6 196.0h0M857.5 195.5h0M857.1 231.9h0M857.7 236.6h0M857.4 198.3h0M858.1 207.8h0M857.2 222.1h0M857.0 197.4h0M858.1 193.9h0M857.6 232.9h0M857.1 203.9h0M857.9 235.2h0M860.7 188.8h0M859.7 237.2h0M860.9 202.7h0M860.7 223.6h0M860.8 220.6h0M860.6 202.9h0M860.3 219.9h0M860.7 212.5h0M860.4 190.2h0M860.9 236.2h0M859.8 201.4h0M860.1 207.4h0M859.9 231.5h0M860.5 222.2h0M860.7 197.0h0M863.3 207.8h0M864.0 252.2h0M863.2 217.5h0M863.6 249.9h0M863.0 224.2h0M862.9 208.4h0M863.2 240.1h0M862.8 212.7h0M863.5 208.4h0M863.8 220.6h0M863.4 228.6h0M863.1 218.5h0M863.2 222.5h0M864.0 213.6h0M866.6 227.8h0M866.2 259.2h0M866.9 235.3h0M867.1 238.2h0M866.5 249.4h0M867.0 235.6h0M867.0 257.0h0M866.0 233.2h0M865.9 228.5h0M865.9 241.2h0M865.8 244.8h0M870.3 230.8h0M869.5 262.2h0M870.2 255.2h0M869.3 242.8h0M869.5 235.2h0M869.9 248.0h0M869.4 240.1h0M869.0 232.2h0M869.8 243.8h0M870.2 256.8h0M869.3 253.0h0M873.1 234.8h0M871.9 263.2h0M871.7 246.6h0M872.7 243.6h0M872.6 254.4h0M872.0 248.8h0M872.4 241.3h0M871.9 260.4h0M872.4 235.2h0M872.5 258.5h0M875.3 238.8h0M875.1 263.2h0M875.3 260.7h0M875.1 247.9h0M876.2 242.6h0M876.0 262.1h0M875.8 254.4h0M874.8 242.1h0M876.0 240.2h0M878.2 242.8h0M877.8 272.2h0M879.2 254.5h0M878.0 268.4h0M879.0 244.3h0M878.5 247.1h0M878.2 246.6h0M878.4 266.8h0M877.8 270.9h0M877.9 264.8h0M881.2 223.8h0M881.5 224.2h0M882.0 224.2h0M881.7 224.0h0M881.3 224.1h0M880.8 242.8h0M881.0 295.2h0M881.0 267.0h0M881.4 294.5h0M881.5 244.4h0M881.8 263.8h0M882.3 249.6h0M882.2 248.3h0M881.1 245.5h0M881.4 282.9h0M881.5 266.7h0M882.0 271.6h0M881.5 258.6h0M881.0 263.5h0M880.8 266.5h0M881.2 286.3h0M883.7 240.8h0M884.0 287.2h0M884.2 269.0h0M884.1 249.1h0M884.4 261.9h0M885.1 258.6h0M884.0 285.4h0M883.8 273.3h0M884.6 286.1h0M884.3 264.9h0M883.8 263.6h0M884.9 286.2h0M885.2 259.7h0M884.9 266.5h0M887.6 240.8h0M887.8 267.2h0M887.1 261.9h0M887.2 260.8h0M886.9 266.7h0M887.3 244.4h0M888.0 264.0h0M887.2 259.3h0M888.1 265.9h0M887.0 263.2h0M890.2 242.8h0M890.5 272.2h0M889.9 261.8h0M890.4 249.7h0M890.8 261.5h0M889.9 265.9h0M890.6 268.7h0M891.1 265.2h0M890.5 246.9h0M890.2 263.0h0M893.6 252.8h0M893.3 289.2h0M892.8 260.3h0M893.7 269.7h0M892.9 267.2h0M893.8 278.1h0M893.6 279.8h0M892.8 278.2h0M893.4 280.4h0M893.6 281.6h0M893.1 279.2h0M894.2 261.9h0M896.7 267.8h0M896.3 291.2h0M896.8 290.1h0M897.3 270.2h0M896.2 284.6h0M895.7 277.8h0M897.3 287.3h0M895.7 289.8h0M896.8 279.5h0M899.1 268.8h0M899.0 291.2h0M899.4 281.8h0M899.9 277.8h0M900.2 289.7h0M899.1 271.5h0M898.7 274.1h0M899.9 287.4h0M900.2 268.9h0M903.1 270.8h0M902.1 289.2h0M903.2 271.0h0M903.2 282.1h0M903.0 281.7h0M902.3 281.0h0M903.2 282.3h0M902.0 275.9h0M905.5 272.8h0M904.8 289.2h0M905.1 280.9h0M906.0 281.1h0M905.8 275.1h0M905.3 289.0h0M905.7 275.7h0M908.1 274.8h0M907.8 291.2h0M909.2 277.6h0M908.8 285.6h0M908.7 289.4h0M908.7 275.0h0M908.8 279.7h0M912.0 277.8h0M911.2 293.2h0M911.3 282.2h0M911.9 280.9h0M912.2 278.9h0M910.9 280.2h0M911.6 280.8h0M915.6 292.8h0M915.6 319.2h0M915.5 303.8h0M914.9 297.6h0M914.9 301.8h0M915.3 313.5h0M915.8 299.9h0M915.0 307.6h0M914.7 304.8h0M915.0 293.2h0M917.9 297.8h0M918.7 317.2h0M917.7 308.9h0M917.7 310.0h0M918.1 316.1h0M917.4 309.0h0M917.5 313.8h0M918.0 307.0h0M921.6 300.8h0M920.3 317.2h0M920.7 311.3h0M921.3 316.9h0M921.2 302.6h0M921.6 301.4h0M921.3 312.1h0M924.3 292.8h0M924.7 317.2h0M924.7 316.0h0M924.5 299.9h0M925.2 311.0h0M924.8 307.2h0M924.6 302.4h0M924.8 310.4h0M924.8 313.5h0M924.2 306.9h0M924.2 310.3h0M924.7 302.8h0M923.9 313.8h0M927.0 277.8h0M926.7 302.2h0M926.1 297.6h0M926.0 296.6h0M926.5 293.5h0M926.7 285.9h0M926.9 301.7h0M926.5 295.9h0M926.1 298.9h0M926.8 295.4h0M925.9 291.4h0M926.0 284.7h0M926.3 282.2h0M927.8 264.8h0M928.8 289.2h0M929.0 278.5h0M928.2 265.2h0M927.9 268.1h0M928.9 282.1h0M928.7 274.8h0M928.3 275.7h0M928.2 276.3h0M929.2 269.0h0M927.8 288.4h0M928.2 287.4h0M928.5 280.3h0M929.8 247.8h0M930.4 275.2h0M930.1 264.0h0M931.0 254.8h0M931.1 264.1h0M930.9 250.8h0M930.8 262.4h0M930.6 250.1h0M929.8 258.5h0M930.7 267.3h0M930.3 253.2h0M930.2 251.9h0M930.6 274.3h0M930.1 259.5h0M932.5 240.8h0M933.1 262.2h0M933.2 262.0h0M933.6 253.6h0M932.4 256.8h0M933.0 243.1h0M933.3 241.5h0M932.9 244.5h0M936.7 240.8h0M936.2 257.2h0M935.4 241.9h0M936.3 242.3h0M936.0 240.9h0M936.5 246.0h0M935.5 243.4h0M120.6 472.0h0M121.3 474.4h0M120.7 473.4h0M121.8 472.1h0M122.2 475.4h0M122.0 473.5h0M123.0 472.5h0M122.9 476.3h0M123.4 475.5h0M124.4 473.0h0M124.1 476.6h0M124.0 472.7h0M124.8 471.1h0M125.0 475.1h0M124.9 475.5h0M126.4 472.0h0M126.0 475.9h0M125.8 473.2h0M127.3 472.2h0M127.1 476.8h0M126.8 475.5h0M127.8 472.9h0M127.8 475.7h0M127.6 473.7h0M129.4 472.6h0M129.5 474.9h0M128.6 474.3h0M130.1 473.3h0M130.0 474.5h0M129.8 474.8h0M131.3 472.6h0M130.6 474.4h0M131.5 474.5h0M131.9 471.4h0M132.3 476.2h0M132.1 475.3h0M132.7 471.1h0M133.3 475.5h0M132.7 472.8h0M134.3 472.1h0M134.3 474.2h0M133.9 472.3h0M134.8 470.8h0M134.6 475.8h0M135.2 471.7h0M135.8 470.3h0M136.0 474.2h0M136.1 473.7h0M137.2 470.1h0M136.7 475.6h0M137.4 472.1h0M138.0 470.0h0M138.0 476.4h0M138.0 473.7h0M139.3 470.5h0M138.8 476.2h0M139.3 473.3h0M139.6 471.2h0M140.4 477.2h0M140.3 475.7h0M141.1 472.8h0M140.7 476.0h0M141.1 476.1h0M141.8 472.5h0M141.5 477.3h0M141.9 474.0h0M142.8 474.3h0M142.6 477.4h0M142.9 475.3h0M143.6 475.0h0M143.6 478.2h0M143.9 477.1h0M145.3 474.9h0M145.5 476.3h0M144.9 474.8h0M145.9 475.8h0M146.4 478.0h0M145.6 477.0h0M147.3 475.1h0M147.3 478.1h0M147.3 476.1h0M147.8 477.0h0M147.5 478.5h0M147.9 476.4h0M148.8 476.9h0M149.4 479.0h0M149.0 478.0h0M150.2 476.2h0M150.1 479.9h0M149.5 478.3h0M150.7 477.3h0M151.0 479.7h0M151.2 478.6h0M151.6 477.8h0M151.7 478.7h0M151.9 478.3h0M152.8 475.4h0M152.7 479.2h0M152.6 479.2h0M153.9 476.2h0M154.0 479.5h0M153.9 478.4h0M155.2 475.4h0M154.8 478.7h0M155.3 477.0h0M155.7 474.8h0M155.9 480.5h0M155.8 479.4h0M156.6 475.8h0M157.5 481.1h0M157.2 478.9h0M158.3 476.1h0M157.8 480.7h0M158.2 479.7h0M158.5 474.8h0M159.0 479.4h0M159.4 479.0h0M159.7 473.5h0M159.8 479.0h0M160.5 473.9h0M161.1 472.6h0M160.8 478.5h0M161.2 478.3h0M162.2 470.5h0M161.5 478.7h0M161.7 475.3h0M162.2 471.9h0M163.1 470.5h0M162.5 478.8h0M162.5 474.8h0M163.4 474.2h0M164.3 470.3h0M164.1 477.3h0M164.0 475.6h0M164.1 477.6h0M164.8 468.5h0M165.0 477.9h0M165.3 477.0h0M165.4 472.4h0M166.1 470.0h0M166.2 479.0h0M165.6 469.8h0M165.9 473.0h0M166.7 468.3h0M167.2 478.1h0M166.8 472.0h0M166.7 471.4h0M168.0 469.3h0M167.8 477.6h0M168.1 471.0h0M167.8 469.1h0M169.2 468.7h0M168.9 476.9h0M168.7 469.2h0M169.2 477.3h0M170.4 469.6h0M169.9 478.0h0M170.5 477.7h0M170.5 472.3h0M170.6 469.9h0M171.0 477.8h0M170.6 477.1h0M171.3 477.1h0M171.8 470.2h0M171.9 477.7h0M172.4 473.1h0M171.9 476.1h0M173.4 472.5h0M173.1 479.4h0M172.9 474.6h0M172.6 473.0h0M173.9 472.2h0M173.8 477.7h0M173.7 476.4h0M175.0 473.6h0M174.6 480.0h0M174.5 472.9h0M176.4 474.8h0M176.1 479.0h0M175.8 476.8h0M176.9 474.8h0M177.3 480.5h0M176.9 477.9h0M177.6 474.6h0M177.6 479.8h0M177.8 480.4h0M179.4 474.7h0M178.7 480.5h0M178.8 480.7h0M180.3 475.9h0M180.1 482.4h0M180.4 477.4h0M180.9 475.9h0M181.4 482.8h0M181.2 482.0h0M182.4 476.2h0M181.7 482.2h0M182.4 478.1h0M183.2 476.7h0M182.8 483.5h0M183.2 481.6h0M184.5 477.7h0M184.2 482.1h0M184.4 482.6h0M185.1 477.0h0M185.4 481.5h0M185.3 479.0h0M186.1 476.8h0M186.0 482.7h0M186.0 481.6h0M187.0 476.7h0M187.0 481.2h0M186.9 479.6h0M188.4 478.2h0M188.1 480.5h0M188.1 478.0h0M189.0 477.3h0M189.3 480.5h0M188.5 478.5h0M190.3 478.4h0M189.6 479.3h0M190.2 478.7h0M190.6 477.6h0M190.7 479.5h0M191.4 479.2h0M191.6 478.2h0M192.4 478.4h0M192.4 478.7h0M193.1 477.5h0M193.3 479.4h0M193.3 478.6h0M193.7 477.8h0M194.2 480.3h0M194.1 477.4h0M195.4 478.0h0M194.9 478.6h0M194.6 478.0h0M196.3 476.6h0M195.8 480.9h0M196.3 479.2h0M197.2 475.9h0M197.0 479.3h0M197.5 478.9h0M198.2 476.9h0M198.3 479.5h0M198.3 477.7h0M198.7 477.5h0M198.8 479.0h0M198.5 478.4h0M200.5 477.8h0M199.7 479.5h0M199.8 478.9h0M201.1 476.9h0M201.1 479.1h0M201.5 479.0h0M202.4 477.9h0M202.0 480.4h0M202.1 480.0h0M203.0 477.6h0M202.7 480.1h0M203.1 479.0h0M204.3 477.6h0M203.6 479.7h0M204.5 478.7h0M205.2 477.5h0M205.4 480.4h0M204.9 478.6h0M205.9 478.5h0M205.7 481.1h0M206.3 479.4h0M206.6 479.3h0M207.3 479.4h0M207.4 479.4h0M208.4 479.7h0M208.1 480.2h0M208.4 479.1h0M209.2 480.0h0M209.1 480.4h0M208.8 479.6h0M209.8 479.1h0M209.6 480.4h0M210.4 479.6h0M210.9 478.5h0M211.4 479.8h0M211.1 479.6h0M211.6 480.5h0M212.4 480.7h0M211.6 479.9h0M213.4 478.6h0M213.4 481.3h0M213.4 480.5h0M213.7 479.6h0M213.8 481.5h0M214.5 481.0h0M215.1 479.1h0M214.7 482.8h0M215.2 479.2h0M215.8 479.6h0M215.6 481.4h0M216.0 478.5h0M216.6 479.1h0M216.5 482.2h0M216.8 479.1h0M217.8 477.7h0M217.7 480.0h0M217.7 480.5h0M219.2 478.6h0M219.1 480.1h0M219.0 478.9h0M220.2 478.2h0M219.5 479.4h0M219.9 478.7h0M221.2 477.5h0M221.2 479.0h0M221.3 478.6h0M222.2 477.5h0M221.6 477.9h0M222.1 477.6h0M222.9 475.5h0M222.6 479.3h0M222.7 476.8h0M223.7 475.9h0M224.4 478.0h0M223.7 477.8h0M224.8 475.2h0M225.0 478.6h0M225.3 476.5h0M225.9 475.7h0M225.6 476.1h0M225.9 475.9h0M227.0 473.7h0M226.8 477.0h0M226.9 474.1h0M227.9 473.7h0M227.8 477.1h0M227.9 475.4h0M228.7 474.4h0M229.0 475.7h0M229.2 475.5h0M230.4 473.8h0M230.1 474.2h0M229.6 473.8h0M230.9 472.4h0M231.0 474.8h0M231.5 472.5h0M231.5 472.3h0M232.0 474.5h0M232.1 472.3h0M232.8 471.1h0M233.0 474.3h0M232.8 471.9h0M234.2 470.9h0M234.5 474.3h0M234.3 471.4h0M235.2 470.0h0M235.2 473.8h0M234.7 470.5h0M236.1 469.2h0M236.2 473.4h0M236.4 472.0h0M236.6 468.7h0M237.0 471.7h0M237.2 472.1h0M238.5 468.7h0M238.3 472.4h0M237.8 470.8h0M238.8 468.3h0M238.9 472.3h0M239.0 468.6h0M239.8 467.6h0M240.0 471.4h0M239.8 470.2h0M241.0 466.5h0M241.2 471.6h0M240.5 467.7h0M242.3 466.9h0M241.8 471.3h0M242.1 469.5h0M242.8 467.1h0M243.2 469.3h0M243.3 469.8h0M243.7 468.6h0M244.2 469.5h0M243.5 469.6h0M245.1 468.2h0M244.6 468.6h0M245.1 469.1h0M245.7 466.3h0M245.9 470.0h0M245.9 469.4h0M246.7 464.4h0M246.7 468.3h0M247.3 466.8h0M248.4 462.4h0M248.0 469.4h0M247.5 466.6h0M249.0 461.7h0M248.8 467.8h0M249.2 467.1h0M248.6 462.0h0M249.6 457.9h0M250.5 467.3h0M249.6 466.2h0M249.8 462.8h0M251.3 457.4h0M250.6 465.9h0M251.3 463.7h0M251.4 461.0h0M251.9 455.0h0M252.1 465.0h0M252.0 464.5h0M252.3 459.7h0M253.4 455.0h0M253.4 465.3h0M253.1 459.0h0M253.1 459.9h0M253.6 454.1h0M253.8 464.0h0M253.8 456.4h0M254.0 459.2h0M254.7 455.7h0M254.6 462.4h0M254.6 460.5h0M255.1 461.6h0M255.9 455.7h0M255.6 461.5h0M256.3 456.6h0M256.8 455.9h0M257.4 463.1h0M256.7 456.6h0M258.0 455.6h0M257.6 463.0h0M257.8 461.2h0M259.2 456.6h0M259.2 463.2h0M259.4 457.8h0M260.0 457.1h0M260.1 461.5h0M260.0 458.9h0M261.1 455.6h0M260.8 461.9h0M260.9 458.2h0M261.7 456.7h0M262.5 459.6h0M262.3 458.9h0M263.0 455.3h0M263.4 461.0h0M263.0 456.5h0M264.0 454.6h0M264.0 460.5h0M263.8 456.6h0M265.4 452.2h0M265.0 459.1h0M265.1 456.2h0M266.2 452.4h0M266.1 459.2h0M266.2 458.5h0M267.4 450.7h0M267.4 458.3h0M267.1 452.8h0M268.0 452.2h0M267.7 455.9h0M267.5 451.5h0M268.8 451.8h0M269.1 456.0h0M268.6 455.4h0M270.0 450.7h0M270.2 455.8h0M269.7 453.5h0M270.9 450.7h0M271.3 454.7h0M270.7 450.5h0M271.6 451.0h0M271.7 455.9h0M272.2 453.3h0M273.4 451.5h0M273.3 456.7h0M273.5 455.2h0M274.0 449.8h0M274.5 458.1h0M273.8 452.7h0M273.8 450.8h0M274.6 451.9h0M274.6 458.1h0M275.4 451.8h0M275.2 450.8h0M276.4 450.0h0M276.5 457.0h0M275.5 453.6h0M276.9 449.5h0M277.1 456.8h0M277.0 450.8h0M277.7 449.8h0M278.4 455.4h0M277.8 453.4h0M279.3 451.2h0M279.2 454.6h0M278.6 452.8h0M280.5 449.3h0M279.8 454.4h0M279.9 452.3h0M280.5 449.0h0M281.3 453.5h0M281.4 453.3h0M282.3 447.7h0M282.2 454.1h0M282.0 452.1h0M283.1 446.7h0M283.0 452.7h0M282.6 447.7h0M283.7 445.4h0M284.3 451.9h0M283.8 447.4h0M285.3 444.4h0M285.0 452.7h0M285.5 451.5h0M286.2 445.5h0M286.0 451.4h0M286.4 449.2h0M287.0 444.6h0M286.8 450.8h0M287.5 448.4h0M287.7 443.1h0M288.2 450.2h0M288.2 444.3h0M289.2 442.0h0M289.1 448.3h0M288.8 447.9h0M290.2 440.6h0M290.5 447.0h0M290.4 443.1h0M291.3 440.1h0M290.8 445.8h0M290.8 444.0h0M291.5 439.4h0M292.2 445.9h0M292.4 442.1h0M293.0 438.7h0M293.0 443.1h0M292.6 439.8h0M294.5 436.6h0M294.2 442.7h0M294.0 440.0h0M295.1 434.8h0M295.2 440.6h0M294.6 440.5h0M296.2 435.9h0M296.1 440.5h0M296.3 438.1h0M297.3 432.9h0M297.3 438.3h0M296.9 436.0h0M298.5 433.0h0M298.0 438.7h0M298.2 437.0h0M299.2 431.1h0M298.6 437.1h0M298.7 437.6h0M298.6 432.6h0M299.8 428.0h0M299.7 436.0h0M300.5 432.2h0M299.7 434.8h0M301.0 423.6h0M300.8 436.5h0M301.3 435.5h0M300.8 431.8h0M302.1 418.1h0M302.2 436.6h0M301.7 427.8h0M301.9 436.2h0M301.5 429.5h0M303.5 410.6h0M302.6 433.7h0M302.6 424.9h0M303.4 419.0h0M302.7 415.4h0M303.2 420.7h0M303.7 404.5h0M304.3 430.5h0M303.6 421.6h0M304.1 424.9h0M304.4 410.6h0M303.7 417.5h0M305.0 405.6h0M305.3 428.2h0M305.2 425.1h0M304.8 425.2h0M305.4 416.7h0M305.8 404.8h0M306.0 424.7h0M306.5 412.9h0M306.5 413.0h0M305.8 415.0h0M306.9 404.1h0M306.6 422.3h0M307.0 408.6h0M307.0 408.4h0M307.5 413.3h0M308.4 405.0h0M308.5 420.3h0M308.4 412.4h0M308.2 405.9h0M307.8 414.4h0M308.8 403.2h0M309.5 416.6h0M309.2 409.1h0M309.2 405.3h0M310.2 403.1h0M309.8 416.1h0M309.8 409.9h0M309.6 415.3h0M311.3 405.6h0M311.0 417.9h0M310.9 410.3h0M311.2 417.0h0M311.7 407.7h0M311.6 419.6h0M311.8 410.9h0M311.8 412.0h0M312.8 408.4h0M313.2 420.5h0M313.4 413.3h0M313.0 417.5h0M314.0 411.3h0M313.9 420.3h0M314.0 413.3h0M313.7 411.4h0M315.2 409.8h0M314.9 421.5h0M315.2 420.4h0M315.1 412.7h0M315.7 411.0h0M316.3 421.2h0M315.7 413.1h0M315.7 419.0h0M316.8 409.9h0M317.1 418.6h0M317.3 417.6h0M317.5 410.3h0M317.6 409.8h0M318.3 417.7h0M318.3 411.6h0M318.2 415.1h0M318.8 410.4h0M319.0 417.6h0M319.4 417.5h0M318.5 410.9h0M320.4 409.8h0M320.1 417.5h0M319.6 416.7h0M319.8 416.7h0M320.9 408.5h0M321.1 418.3h0M320.7 411.9h0M320.9 413.3h0M322.2 409.6h0M322.0 417.6h0M321.6 413.3h0M322.4 416.1h0M323.4 409.5h0M323.0 418.9h0M322.9 416.0h0M323.0 417.2h0M324.2 407.6h0M324.1 417.6h0M323.7 415.3h0M323.9 415.8h0M324.7 409.4h0M324.9 419.9h0M324.9 411.4h0M324.8 412.3h0M325.9 410.1h0M326.3 418.5h0M325.6 413.7h0M326.1 409.7h0M326.8 410.1h0M326.8 420.3h0M327.3 415.0h0M326.7 416.2h0M327.9 411.4h0M328.0 421.6h0M328.2 416.4h0M328.4 413.4h0M328.7 411.2h0M328.8 420.6h0M328.5 414.4h0M329.1 420.9h0M330.2 412.1h0M330.0 422.6h0M329.8 418.4h0M329.5 418.6h0M331.0 411.9h0M330.9 421.4h0M330.7 414.3h0M331.3 416.0h0M332.3 411.0h0M332.0 422.5h0M332.1 413.9h0M332.4 412.1h0M333.4 411.5h0M333.0 422.1h0M332.8 421.4h0M333.0 416.8h0M333.6 409.1h0M333.9 419.8h0M334.1 412.2h0M334.5 414.5h0M335.4 410.3h0M335.2 418.6h0M334.7 413.3h0M335.1 416.0h0M335.5 408.4h0M336.2 417.4h0M335.7 413.8h0M336.0 416.3h0M336.6 408.2h0M336.8 415.7h0M336.7 408.9h0M337.5 413.7h0M337.6 405.5h0M338.0 415.0h0M338.1 410.6h0M337.8 412.2h0M338.8 405.7h0M339.4 413.1h0M339.1 405.9h0M339.4 411.1h0M340.1 405.1h0M339.6 414.3h0M340.2 413.8h0M340.3 406.6h0M340.9 404.2h0M341.2 413.7h0M341.4 413.0h0M340.6 407.2h0M342.3 403.3h0M342.4 413.2h0M342.1 403.5h0M341.7 404.3h0M343.2 405.1h0M343.2 414.4h0M342.9 405.3h0M342.8 412.4h0M344.4 404.6h0M344.3 416.3h0M343.5 408.6h0M344.1 413.2h0M344.5 405.4h0M344.7 417.1h0M345.4 409.7h0M344.5 412.6h0M346.1 407.2h0M345.8 419.1h0M346.1 408.7h0M346.4 410.9h0M347.2 407.8h0M347.5 421.0h0M347.0 408.9h0M347.1 413.3h0M348.4 409.8h0M347.8 421.2h0M348.2 410.9h0M348.1 416.7h0M348.9 410.6h0M349.1 424.1h0M348.5 411.7h0M348.5 414.2h0M349.7 413.1h0M349.9 425.5h0M350.5 424.2h0M349.5 425.5h0M351.2 414.4h0M350.5 428.2h0M350.9 423.8h0M350.5 418.6h0M351.6 414.2h0M351.7 429.2h0M351.9 414.5h0M351.6 427.4h0M353.1 416.3h0M352.9 430.3h0M353.2 424.1h0M353.4 421.8h0M354.2 417.7h0M354.2 430.0h0M353.9 428.9h0M354.4 421.2h0M354.5 419.5h0M355.5 430.0h0M354.8 418.8h0M354.7 422.0h0M355.7 419.9h0M355.8 432.4h0M355.6 430.0h0M356.2 430.0h0M356.6 420.4h0M357.5 432.2h0M356.8 420.9h0M357.0 429.0h0M358.2 422.1h0M358.3 432.7h0M358.0 422.1h0M357.7 431.7h0M359.2 422.3h0M359.0 432.2h0M358.7 430.9h0M359.2 425.4h0M360.3 423.6h0M359.8 431.6h0M360.3 428.5h0M360.2 429.1h0M360.7 422.5h0M360.8 433.2h0M361.2 427.4h0M360.7 425.0h0M362.2 423.6h0M362.0 433.3h0M362.5 428.1h0M362.1 431.9h0M362.9 420.8h0M362.9 431.9h0M362.7 430.8h0M363.3 431.1h0M363.7 421.1h0M363.6 433.6h0M364.1 425.5h0M363.8 431.4h0M365.0 418.2h0M365.2 431.6h0M365.2 420.7h0M364.9 425.3h0M366.5 416.5h0M366.2 432.1h0M366.3 419.0h0M366.3 423.0h0M366.4 425.9h0M367.0 417.6h0M367.4 432.1h0M367.1 421.7h0M366.5 420.9h0M366.7 429.7h0M367.5 416.5h0M367.6 432.3h0M368.2 425.9h0M368.0 417.4h0M368.5 420.6h0M368.9 416.0h0M368.7 432.6h0M368.7 417.7h0M368.9 420.1h0M368.6 421.7h0M370.5 417.7h0M369.9 433.8h0M370.1 425.5h0M369.7 424.7h0M369.9 426.2h0M370.6 416.2h0M371.1 434.7h0M370.6 428.6h0M371.1 430.1h0M370.6 430.0h0M371.9 416.5h0M372.5 433.2h0M372.3 426.3h0M372.1 419.1h0M372.2 423.4h0M373.4 416.3h0M372.8 434.5h0M373.4 422.3h0M373.3 429.0h0M373.0 419.5h0M374.4 416.9h0M374.4 434.7h0M373.8 424.8h0M374.5 431.1h0M374.0 426.4h0M375.4 417.8h0M374.8 435.3h0M375.3 425.2h0M374.7 426.0h0M374.9 421.8h0M376.2 419.1h0M375.7 437.7h0M375.7 425.8h0M375.6 423.3h0M376.3 434.3h0M377.0 419.9h0M376.8 438.6h0M376.9 430.5h0M377.0 434.3h0M377.5 433.6h0M377.5 420.7h0M378.2 439.1h0M378.4 425.6h0M378.4 432.3h0M378.4 434.1h0M379.0 422.6h0M378.5 437.8h0M378.6 428.2h0M379.1 436.8h0M379.4 433.6h0M380.1 424.8h0M379.8 436.5h0M380.0 424.5h0M379.5 427.1h0M381.3 426.3h0M380.6 435.0h0M381.1 426.3h0M381.4 433.6h0M381.7 425.6h0M382.3 433.9h0M381.8 426.4h0M382.3 425.9h0M383.2 422.2h0M383.2 431.6h0M383.1 426.9h0M382.7 430.1h0M383.9 421.5h0M383.6 430.4h0M384.3 427.5h0M383.9 425.0h0M385.1 419.6h0M385.5 428.1h0M384.7 423.4h0M384.9 422.0h0M385.8 416.9h0M386.2 428.2h0M386.3 417.7h0M386.1 429.2h0M387.4 416.9h0M387.4 430.0h0M387.3 428.8h0M387.2 423.0h0M388.2 418.5h0M387.6 430.1h0M387.9 429.2h0M388.1 418.4h0M388.6 417.8h0M389.1 431.0h0M388.7 419.7h0M389.4 418.4h0M390.1 417.8h0M389.7 430.6h0M390.1 426.1h0M389.8 418.3h0M391.3 417.5h0M391.5 433.6h0M391.1 420.8h0M390.6 418.2h0M391.1 419.5h0M392.1 418.8h0M392.4 434.3h0M391.5 431.1h0M392.4 433.1h0M392.4 427.7h0M392.9 425.8h0M393.0 437.2h0M392.5 435.9h0M392.5 431.0h0M393.7 430.9h0M393.7 439.3h0M394.0 431.3h0M394.3 437.2h0M395.4 436.4h0M394.8 446.0h0M395.1 443.1h0M395.1 441.3h0M396.4 441.0h0M395.6 454.6h0M395.7 455.0h0M395.7 445.9h0M397.1 446.3h0M397.0 463.6h0M397.0 451.0h0M397.3 456.6h0M396.9 448.8h0M397.7 451.4h0M397.5 469.0h0M398.1 455.1h0M398.2 456.0h0M397.6 461.6h0M398.7 454.6h0M398.6 470.5h0M399.1 462.7h0M399.4 469.7h0M399.0 455.0h0M399.8 456.8h0M400.4 472.9h0M400.2 459.4h0M400.5 459.1h0M400.9 461.4h0M401.1 473.8h0M401.2 466.1h0M401.5 462.4h0M537.8 400.1h0M537.6 410.8h0M538.2 410.3h0M538.4 402.3h0M538.6 395.8h0M538.8 408.8h0M539.1 396.7h0M539.0 404.8h0M539.9 393.2h0M540.3 406.5h0M540.5 395.7h0M540.5 395.5h0M541.0 388.0h0M540.5 405.9h0M541.2 393.8h0M541.1 399.3h0M540.9 403.7h0M541.8 388.6h0M541.6 405.0h0M542.4 393.6h0M542.0 398.6h0M542.4 394.8h0M542.7 389.7h0M542.9 403.6h0M543.4 389.9h0M542.5 392.1h0M542.6 395.1h0M543.8 392.0h0M544.2 404.7h0M543.8 394.7h0M544.0 392.4h0M544.9 393.4h0M544.6 405.4h0M545.3 400.3h0M544.7 397.3h0M545.5 393.9h0M546.1 404.4h0M546.2 401.5h0M546.2 400.1h0M547.5 394.4h0M547.2 404.2h0M546.8 398.8h0M547.3 397.1h0M548.4 395.6h0M548.1 404.3h0M547.7 397.5h0M548.3 397.9h0M548.9 395.5h0M549.2 406.5h0M548.9 401.1h0M549.2 395.7h0M549.7 394.9h0M550.3 404.1h0M550.3 396.6h0M549.6 401.8h0M550.8 394.1h0M550.5 405.4h0M551.3 402.1h0M551.1 404.0h0M552.4 395.4h0M551.9 404.3h0M551.6 394.3h0M551.5 394.8h0M552.7 393.9h0M553.1 404.3h0M552.9 401.8h0M553.2 400.3h0M553.9 392.3h0M554.1 404.0h0M554.1 394.7h0M553.7 394.3h0M554.8 391.8h0M554.6 404.1h0M555.2 394.7h0M554.7 399.7h0M556.1 391.0h0M555.8 404.7h0M555.6 392.9h0M555.9 398.3h0M557.4 390.4h0M556.5 403.6h0M557.1 392.7h0M556.9 396.1h0M558.4 391.6h0M558.3 404.0h0M558.4 396.5h0M557.6 393.9h0M395.9 446.8h0M396.2 447.6h0M396.6 449.4h0M397.3 454.9h0M397.5 455.3h0M398.0 456.9h0M398.3 456.6h0M398.4 459.0h0M398.6 463.1h0M399.3 461.8h0M399.3 465.0h0M399.8 465.9h0M400.3 466.6h0M400.6 468.8h0M400.7 469.4h0M401.3 469.6h0M401.9 467.5h0M401.8 471.5h0M402.5 469.8h0M402.6 473.4h0M403.3 474.5h0M403.2 472.3h0M403.7 473.4h0M404.3 474.0h0M404.3 475.1h0M404.9 475.3h0M405.4 477.5h0M405.6 477.5h0M405.6 476.4h0M405.9 475.3h0M406.6 477.7h0M407.0 478.4h0M407.1 476.1h0M407.7 474.5h0M408.1 473.2h0M408.2 472.8h0M408.5 476.2h0M409.2 473.7h0M409.1 472.4h0M409.9 470.9h0M410.2 470.6h0M410.2 472.5h0M410.5 471.9h0M411.0 471.3h0M411.5 469.6h0M411.8 469.4h0M412.2 465.9h0M412.2 463.9h0M413.0 466.4h0M412.9 462.5h0M413.5 459.9h0M413.6 462.0h0M414.4 460.7h0M414.4 459.4h0M415.2 457.6h0M415.2 454.3h0M415.6 455.5h0M415.9 451.8h0M416.0 450.3h0M416.5 449.9h0M417.0 447.5h0M417.1 448.6h0M417.5 447.7h0M418.1 447.6h0M418.3 447.1h0M419.0 443.7h0M419.0 441.3h0M419.5 440.1h0M419.7 438.1h0M420.3 439.0h0M420.6 438.4h0M420.9 434.5h0M421.1 433.5h0M421.5 431.4h0M421.8 428.5h0M422.4 430.5h0M422.7 428.5h0M422.8 428.6h0M423.6 431.9h0M423.4 432.1h0M423.8 433.5h0M424.2 433.5h0M425.0 430.8h0M424.8 434.0h0M425.4 435.9h0M425.6 430.9h0M426.3 433.0h0M426.5 432.5h0M427.0 430.1h0M427.0 432.9h0M427.5 427.7h0M428.0 429.6h0M427.9 428.0h0M428.6 429.8h0M429.0 428.1h0M429.4 426.4h0M429.8 427.3h0M429.7 426.6h0M430.5 427.1h0M430.6 422.5h0M431.0 421.8h0M431.4 424.3h0M431.8 423.4h0M432.2 421.8h0M432.3 422.5h0M432.8 421.3h0M433.0 421.4h0M433.4 419.1h0M433.9 418.0h0M434.3 415.9h0M434.2 414.5h0M434.8 416.3h0M435.0 414.3h0M435.6 412.7h0M436.0 414.2h0M436.1 414.8h0M436.9 414.4h0M436.8 410.9h0M437.3 414.6h0M437.4 414.6h0M438.1 417.3h0M438.2 423.7h0M438.8 425.0h0M438.8 425.9h0M439.2 428.4h0M439.5 430.5h0M440.3 434.0h0M440.7 435.5h0M440.7 436.6h0M441.1 435.3h0M441.5 431.6h0M441.8 430.8h0M442.1 428.1h0M442.6 423.6h0M443.1 424.0h0M443.3 420.7h0M443.6 421.7h0M443.9 420.0h0M444.1 419.5h0M444.8 418.9h0M444.9 416.7h0M445.3 417.6h0M445.5 418.3h0M446.0 419.2h0M446.6 418.7h0M446.9 418.1h0M446.9 421.7h0M447.6 421.3h0M448.0 422.5h0M448.4 422.0h0M448.8 420.1h0M448.8 420.0h0M449.0 421.6h0M449.5 423.5h0M449.8 422.0h0M450.2 423.7h0M450.8 426.2h0M451.2 428.4h0M451.3 425.8h0M451.7 426.8h0M452.0 429.8h0M452.5 429.2h0M452.6 428.0h0M453.3 432.6h0M453.5 433.5h0M453.6 433.9h0M454.0 435.7h0M454.4 435.1h0M454.7 436.0h0M455.4 439.7h0M455.4 439.9h0M456.1 439.6h0M456.3 441.8h0M456.6 441.0h0M457.1 441.6h0M457.4 443.8h0M457.5 443.9h0M457.8 443.0h0M458.4 445.0h0M458.5 446.0h0M459.2 445.5h0M459.2 442.9h0M459.7 444.0h0M460.2 439.3h0M460.6 439.3h0M460.7 437.0h0M461.1 440.2h0M461.4 435.1h0M462.0 436.3h0M461.9 436.5h0M462.3 435.1h0M462.8 432.5h0M463.2 431.8h0M463.5 432.2h0M463.9 428.8h0M464.3 432.1h0M464.8 428.7h0M465.1 426.5h0M465.4 425.9h0M465.4 427.6h0M465.9 426.3h0M466.1 424.3h0M466.4 427.0h0M466.8 426.4h0M467.1 422.3h0M467.9 423.7h0M467.8 421.7h0M468.2 421.1h0M468.7 421.8h0M469.3 419.4h0M469.6 423.7h0M469.8 422.4h0M470.2 420.6h0M470.6 419.5h0M471.0 421.8h0M471.1 419.4h0M471.9 423.4h0M471.7 426.0h0M472.1 426.3h0M472.4 430.5h0M473.1 431.3h0M473.3 431.5h0M473.4 436.1h0M473.8 436.7h0M474.2 434.8h0M474.5 435.4h0M474.9 437.5h0M475.5 433.8h0M475.5 434.7h0M476.4 433.2h0M476.5 432.7h0M477.1 432.3h0M477.0 433.6h0M477.4 434.3h0M478.1 433.1h0M478.5 431.3h0M478.3 430.3h0M478.8 429.2h0M479.2 428.2h0M479.4 429.9h0M479.8 430.9h0M480.1 426.9h0M480.8 429.9h0M481.2 429.7h0M481.4 426.5h0M481.5 429.6h0M482.2 429.3h0M482.7 427.7h0M483.0 425.1h0M483.4 428.1h0M483.5 425.9h0M483.8 426.2h0M484.0 429.1h0M484.5 426.6h0M485.0 429.0h0M485.5 434.7h0M485.8 432.5h0M486.2 435.0h0M486.4 436.9h0M486.8 441.4h0M486.9 440.1h0M487.6 443.8h0M487.5 444.4h0M488.1 441.5h0M488.4 440.5h0M488.8 443.4h0M489.1 441.0h0M489.6 443.5h0M489.6 445.4h0M490.2 441.8h0M490.5 445.5h0M490.9 443.9h0M491.4 444.5h0M491.3 443.1h0M492.1 443.9h0M492.3 444.0h0M492.5 444.6h0M492.7 443.2h0M493.1 446.9h0M493.5 445.7h0M494.1 446.2h0M494.6 447.7h0M494.9 445.6h0M495.3 448.9h0M495.5 447.7h0M495.6 447.5h0M495.9 445.7h0M496.2 444.5h0M496.8 441.8h0M497.0 441.1h0M497.4 439.6h0M498.1 438.6h0M498.4 438.0h0M498.8 438.3h0M499.1 437.4h0M499.3 437.2h0M499.7 435.9h0M500.1 433.1h0M500.2 431.5h0M500.9 430.2h0M500.9 432.6h0M501.5 428.6h0M501.8 428.1h0M501.8 429.3h0M502.1 428.5h0M502.7 425.6h0M503.1 424.2h0M503.7 422.6h0M504.1 424.0h0M504.3 423.2h0M504.3 425.0h0M505.1 426.6h0M505.4 429.0h0M505.4 429.3h0M505.7 430.5h0M506.0 432.4h0M506.6 433.1h0M506.9 434.2h0M507.3 434.1h0M507.9 436.4h0M507.8 436.8h0M508.5 439.0h0M508.7 440.4h0M509.2 443.6h0M509.2 444.6h0M509.7 444.4h0M510.1 444.8h0M510.4 447.5h0M510.8 448.2h0M510.9 444.9h0M511.3 446.2h0M511.7 447.4h0M512.3 449.9h0M512.8 448.9h0M513.1 448.6h0M513.4 450.6h0M513.7 448.5h0M514.1 450.5h0M514.6 451.0h0M514.7 448.4h0M514.7 448.7h0M515.5 448.4h0M515.8 449.1h0M515.8 452.1h0M516.2 452.2h0M516.8 449.5h0M516.9 451.1h0M517.3 451.3h0M517.9 448.7h0M518.0 452.2h0M518.3 452.6h0M519.0 453.2h0M519.4 451.2h0M519.8 450.0h0M519.6 452.8h0M520.0 452.8h0M520.5 453.8h0M520.9 452.4h0M521.4 455.7h0M521.5 451.6h0M521.8 455.4h0M522.5 450.4h0M522.5 453.5h0M522.8 451.5h0M523.2 449.9h0M523.7 450.2h0M524.3 449.5h0M524.7 449.1h0M524.8 447.4h0M525.1 449.8h0M525.5 445.0h0M525.6 446.2h0M526.2 444.6h0M526.6 441.5h0M526.6 441.4h0M527.1 442.5h0M527.8 440.8h0M528.1 440.9h0M528.2 438.8h0M528.8 439.6h0M529.2 435.8h0M529.1 433.5h0M529.7 431.9h0M530.2 430.8h0M530.4 430.0h0M531.0 428.6h0M531.2 429.9h0M531.6 427.7h0M532.0 425.1h0M532.0 423.2h0M532.3 421.4h0M533.1 424.4h0M533.4 420.0h0M533.3 421.4h0M533.9 419.6h0M534.2 418.6h0M534.7 417.0h0M534.9 415.8h0M535.0 414.4h0M535.6 412.8h0M536.1 414.4h0M536.3 413.1h0M536.7 410.0h0M536.8 409.0h0M537.6 410.5h0M538.0 409.2h0M538.2 404.6h0M538.2 407.4h0M538.6 403.2h0M420.0 423.0h0M420.0 430.0h0M421.0 437.0h0M438.0 410.0h0M438.5 418.0h0M439.0 426.0h0M440.0 434.0h0M441.0 440.0h0M504.0 423.0h0M488.0 438.0h0" fill="none" stroke="#000" stroke-width="5.5" stroke-linecap="round"/>
<circle cx="757" cy="319" r="2.75"/><circle cx="757" cy="331" r="2.75"/><circle cx="757" cy="337" r="2.75"/><circle cx="757.5" cy="344" r="2.75"/><circle cx="757" cy="350.5" r="2.75"/><circle cx="754.5" cy="267" r="2.75"/><circle cx="896" cy="302" r="2.75"/><circle cx="916" cy="326" r="2.75"/><circle cx="916" cy="331" r="2.75"/>
</g>
<g fill="#ff0000"><circle cx="939.5" cy="246" r="2.75"/><circle cx="940" cy="242" r="2.75"/><circle cx="940.5" cy="238" r="2.75"/><circle cx="940.5" cy="234" r="2.75"/><circle cx="941" cy="231" r="2.75"/><circle cx="939" cy="244" r="2.75"/><circle cx="941.5" cy="236" r="2.75"/><circle cx="940.2" cy="240" r="2.75"/></g>
<polyline points="120.5,470.7 120.9,471.0 121.3,471.4 121.7,471.6 122.1,471.7 122.5,471.9 122.9,472.0 123.3,472.1 123.7,472.3 124.1,472.8 124.5,473.9 124.9,474.9 125.3,476.0 125.7,477.1 126.1,478.1 126.5,478.8 126.9,478.9 127.3,479.0 127.7,479.1 128.1,479.2 128.5,479.3 128.9,479.3 129.3,479.4 129.7,479.2 130.1,478.5 130.5,477.8 130.9,477.2 131.3,476.5 131.7,475.8 132.1,475.1 132.5,474.4 132.9,473.7 133.3,473.9 133.7,474.4 134.1,475.0 134.5,475.5 134.9,476.1 135.3,476.6 135.7,477.2 136.1,477.3 136.5,476.9 136.9,476.4 137.3,476.0 137.7,475.6 138.1,475.1 138.5,475.0 138.9,475.6 139.3,476.1 139.7,476.6 140.1,477.1 140.5,477.6 140.9,478.1 141.3,478.2 141.7,477.5 142.1,476.9 142.5,476.2 142.9,475.5 143.3,474.9 143.7,474.9 144.1,476.1 144.5,477.3 144.9,478.6 145.3,479.8 145.7,479.9 146.1,478.6 146.5,477.2 146.9,475.8 147.3,474.4 147.7,473.1 148.1,471.7 148.5,470.3 148.9,468.9 149.3,468.8 149.7,469.1 150.1,469.5 150.5,469.8 150.9,470.1 151.3,470.4 151.7,470.7 152.1,471.0 152.5,471.3 152.9,471.7 153.3,471.8 153.7,472.0 154.1,472.1 154.5,472.3 154.9,472.4 155.3,472.5 155.7,473.4 156.1,474.4 156.5,475.5 156.9,476.6 157.3,477.7 157.7,478.7 158.1,479.1 158.5,479.2 158.9,479.3 159.3,479.3 159.7,479.4 160.1,479.5 160.5,479.6 160.9,479.7 161.3,479.2 161.7,478.5 162.1,477.9 162.5,477.2 162.9,476.5 163.3,475.8 163.7,475.1 164.1,474.5 164.5,473.8 164.9,474.3 165.3,474.9 165.7,475.5 166.1,476.0 166.5,476.6 166.9,477.1 167.3,477.7 167.7,477.5 168.1,477.0 168.5,476.6 168.9,476.1 169.3,475.7 169.7,475.3 170.1,475.5 170.5,476.1 170.9,476.6 171.3,477.1 171.7,477.6 172.1,478.1 172.5,478.7 172.9,478.3 173.3,477.6 173.7,477.0 174.1,476.3 174.5,475.6 174.9,475.0 175.3,475.7 175.7,476.9 176.1,478.1 176.5,479.3 176.9,480.5 177.3,479.8 177.7,478.4 178.1,477.1 178.5,475.7 178.9,474.3 179.3,473.0 179.7,471.6 180.1,470.2 180.5,469.0 180.9,469.4 181.3,469.7 181.7,470.1 182.1,470.4 182.5,470.8 182.9,471.1 183.3,471.5 183.7,471.8 184.1,472.1 184.5,472.5 184.9,472.6 185.3,472.8 185.7,473.0 186.1,473.1 186.5,473.3 186.9,473.6 187.3,474.7 187.7,475.8 188.1,476.9 188.5,478.0 188.9,479.1 189.3,480.1 189.7,480.2 190.1,480.3 190.5,480.4 190.9,480.5 191.3,480.7 191.7,480.8 192.1,480.9 192.5,481.0 192.9,480.3 193.3,479.7 193.7,479.0 194.1,478.3 194.5,477.7 194.9,477.0 195.3,476.4 195.7,475.7 196.1,475.5 196.5,476.1 196.9,476.7 197.3,477.3 197.7,477.9 198.1,478.4 198.5,479.0 198.9,479.5 199.3,479.1 199.7,478.7 200.1,478.3 200.5,477.9 200.9,477.4 201.3,477.1 201.7,477.7 202.1,478.2 202.5,478.8 202.9,479.3 203.3,479.9 203.7,480.4 204.1,480.8 204.5,480.2 204.9,479.6 205.3,478.9 205.7,478.3 206.1,477.7 206.5,477.2 206.9,478.5 207.3,479.7 207.7,480.9 208.1,482.2 208.5,483.1 208.9,481.8 209.3,480.4 209.7,479.1 210.1,477.7 210.5,476.3 210.9,474.8 211.3,473.3 211.7,471.8 212.1,471.1 212.5,471.3 212.9,471.5 213.3,471.8 213.7,472.0 214.1,472.2 214.5,472.4 214.9,472.6 215.3,472.8 215.7,473.0 216.1,473.2 216.5,473.2 216.9,473.2 217.3,473.3 217.7,473.3 218.1,473.3 218.5,473.8 218.9,474.8 219.3,475.7 219.7,476.7 220.1,477.7 220.5,478.6 220.9,479.2 221.3,479.2 221.7,479.2 222.1,479.1 222.5,479.1 222.9,479.1 223.3,479.1 223.7,479.1 224.1,478.7 224.5,478.0 224.9,477.2 225.3,476.4 225.7,475.6 226.1,474.8 226.5,474.0 226.9,473.3 227.3,472.5 227.7,472.6 228.1,473.0 228.5,473.5 228.9,473.9 229.3,474.4 229.7,474.8 230.1,475.3 230.5,475.3 230.9,474.7 231.3,474.2 231.7,473.6 232.1,473.1 232.5,472.5 232.9,472.4 233.3,472.8 233.7,473.3 234.1,473.7 234.5,474.1 234.9,474.5 235.3,474.9 235.7,474.8 236.1,474.1 236.5,473.3 236.9,472.5 237.3,471.8 237.7,471.0 238.1,471.1 238.5,472.2 238.9,473.3 239.3,474.4 239.7,475.5 240.1,475.4 240.5,473.7 240.9,472.1 241.3,470.4 241.7,468.8 242.1,467.1 242.5,465.5 242.9,463.8 243.3,462.1 243.7,461.8 244.1,461.9 244.5,461.9 244.9,461.9 245.3,462.0 245.7,462.0 246.1,462.0 246.5,462.1 246.9,462.1 247.3,462.1 247.7,462.0 248.1,461.9 248.5,461.7 248.9,461.6 249.3,461.4 249.7,461.3 250.1,461.9 250.5,462.7 250.9,463.5 251.3,464.3 251.7,465.0 252.1,465.8 252.5,465.8 252.9,465.6 253.3,465.5 253.7,465.3 254.1,465.1 254.5,464.9 254.9,464.7 255.3,464.5 255.7,463.7 256.1,462.7 256.5,461.8 256.9,460.8 257.3,459.8 257.7,458.9 258.1,457.9 258.5,456.9 258.9,456.0 259.3,456.3 259.7,456.6 260.1,456.9 260.5,457.1 260.9,457.4 261.3,457.7 261.7,458.0 262.1,457.4 262.5,456.7 262.9,456.0 263.3,455.2 263.7,454.5 264.1,453.8 264.5,453.8 264.9,454.1 265.3,454.3 265.7,454.5 266.1,454.8 266.5,455.0 266.9,455.2 267.3,454.5 267.7,453.6 268.1,452.6 268.5,451.7 268.9,450.8 269.3,449.8 269.7,450.4 270.1,451.3 270.5,452.2 270.9,453.1 271.3,454.1 271.7,452.9 272.1,451.3 272.5,449.6 272.9,448.0 273.3,446.3 273.7,444.7 274.1,443.1 274.5,441.4 274.9,440.0 275.3,440.0 275.7,440.1 276.1,440.1 276.5,440.2 276.9,440.2 277.3,440.2 277.7,440.3 278.1,440.3 278.5,440.4 278.9,440.4 279.3,440.2 279.7,440.1 280.1,440.0 280.5,439.8 280.9,439.7 281.3,439.7 281.7,440.5 282.1,441.3 282.5,442.1 282.9,442.9 283.3,443.7 283.7,444.3 284.1,444.1 284.5,443.9 284.9,443.8 285.3,443.6 285.7,443.4 286.1,443.2 286.5,443.0 286.9,442.7 287.3,441.8 287.7,440.8 288.1,439.9 288.5,438.9 288.9,437.9 289.3,437.0 289.7,436.0 290.1,435.1 290.5,434.6 290.9,434.9 291.3,435.2 291.7,435.4 292.1,435.7 292.5,436.0 292.9,436.3 293.3,436.4 293.7,435.7 294.1,435.0 294.5,434.3 294.9,433.5 295.3,432.8 295.7,432.2 296.1,432.5 296.5,432.7 296.9,433.0 297.3,433.2 297.7,433.4 298.1,433.7 298.5,433.8 298.9,432.8 299.3,431.9 299.7,430.9 300.1,430.0 300.5,429.1 300.9,428.5 301.3,429.4 301.7,430.4 302.1,431.4 302.5,432.3 302.9,432.9 303.3,431.3 303.7,429.7 304.1,428.0 304.5,426.4 304.9,424.8 305.3,423.2 305.7,421.6 306.1,420.0 306.5,419.2 306.9,419.2 307.3,419.3 307.7,419.4 308.1,419.5 308.5,419.5 308.9,419.6 309.3,419.7 309.7,419.7 310.1,419.8 310.5,419.8 310.9,419.7 311.3,419.6 311.7,419.5 312.1,419.4 312.5,419.2 312.9,419.6 313.3,420.4 313.7,421.3 314.1,422.1 314.5,422.9 314.9,423.7 315.3,424.1 315.7,423.9 316.1,423.8 316.5,423.6 316.9,423.5 317.3,423.3 317.7,423.1 318.1,423.0 318.5,422.5 318.9,421.5 319.3,420.6 319.7,419.7 320.1,418.7 320.5,417.8 320.9,416.9 321.3,416.0 321.7,415.0 322.1,415.0 322.5,415.4 322.9,415.7 323.3,416.0 323.7,416.3 324.1,416.6 324.5,416.9 324.9,416.7 325.3,416.0 325.7,415.3 326.1,414.6 326.5,414.0 326.9,413.3 327.3,413.1 327.7,413.3 328.1,413.6 328.5,413.9 328.9,414.1 329.3,414.4 329.7,414.7 330.1,414.5 330.5,414.0 330.9,413.5 331.3,413.0 331.7,412.4 332.1,411.9 332.5,412.4 332.9,413.7 333.3,415.1 333.7,416.4 334.1,417.8 334.5,417.9 334.9,416.7 335.3,415.4 335.7,414.2 336.1,413.0 336.5,411.8 336.9,410.6 337.3,409.4 337.7,408.2 338.1,408.4 338.5,408.8 338.9,409.3 339.3,409.8 339.7,410.2 340.1,410.7 340.5,411.2 340.9,411.7 341.3,412.1 341.7,412.6 342.1,412.9 342.5,413.2 342.9,413.5 343.3,413.8 343.7,414.1 344.1,414.4 344.5,415.5 344.9,416.7 345.3,417.9 345.7,419.1 346.1,420.4 346.5,421.6 346.9,422.0 347.3,422.2 347.7,422.5 348.1,422.7 348.5,423.0 348.9,423.2 349.3,423.5 349.7,423.7 350.1,423.3 350.5,422.8 350.9,422.3 351.3,421.7 351.7,421.2 352.1,420.7 352.5,420.2 352.9,419.6 353.3,419.2 353.7,419.9 354.1,420.7 354.5,421.4 354.9,422.1 355.3,422.8 355.7,423.5 356.1,424.2 356.5,424.1 356.9,423.8 357.3,423.5 357.7,423.2 358.1,422.9 358.5,422.6 358.9,423.1 359.3,423.8 359.7,424.5 360.1,425.2 360.5,425.9 360.9,426.6 361.3,427.2 361.7,426.9 362.1,426.4 362.5,426.0 362.9,425.5 363.3,425.0 363.7,424.5 364.1,425.6 364.5,427.0 364.9,428.3 365.3,429.7 365.7,431.1 366.1,430.3 366.5,429.1 366.9,427.9 367.3,426.7 367.7,425.5 368.1,424.3 368.5,423.1 368.9,421.9 369.3,421.0 369.7,421.5 370.1,422.0 370.5,422.5 370.9,423.0 371.3,423.5 371.7,423.9 372.1,424.4 372.5,424.9 372.9,425.4 373.3,425.9 373.7,426.2 374.1,426.5 374.5,426.8 374.9,427.1 375.3,427.4 375.7,427.9 376.1,429.2 376.5,430.4 376.9,431.6 377.3,432.9 377.7,434.1 378.1,435.2 378.5,435.4 378.9,435.7 379.3,436.0 379.7,436.2 380.1,436.5 380.5,436.8 380.9,437.0 381.3,437.1 381.7,436.6 382.1,436.1 382.5,435.6 382.9,435.1 383.3,434.6 383.7,434.1 384.1,433.6 384.5,433.1 384.9,433.1 385.3,433.8 385.7,434.6 386.1,435.3 386.5,436.0 386.9,436.8 387.3,437.5 387.7,438.0 388.1,437.7 388.5,437.5 388.9,437.2 389.3,436.9 389.7,436.7 390.1,436.5 390.5,437.1 390.9,437.7 391.3,438.3 391.7,438.9 392.1,439.4 392.5,440.0 392.9,440.4 393.3,439.8 393.7,439.2 394.1,438.6 394.5,438.0 394.9,437.4 395.3,437.1 395.7,438.4 396.1,439.7 396.5,440.9 396.9,442.2 397.3,442.9 397.7,441.6 398.1,440.3 398.5,439.0 398.9,437.7 399.3,436.4 399.7,435.1 400.1,433.8 400.5,432.5 400.9,432.1 401.3,432.4 401.7,432.8 402.1,433.2 402.5,433.6 402.9,433.9 403.3,434.3 403.7,434.7 404.1,435.1 404.5,435.4 404.9,435.7 405.3,435.9 405.7,436.1 406.1,436.3 406.5,436.5 406.9,436.7 407.3,437.4 407.7,438.6 408.1,439.7 408.5,440.8 408.9,442.0 409.3,443.1 409.7,443.7 410.1,443.8 410.5,444.0 410.9,444.1 411.3,444.3 411.7,444.4 412.1,444.6 412.5,444.7 412.9,444.5 413.3,443.9 413.7,443.2 414.1,442.6 414.5,442.0 414.9,441.4 415.3,440.8 415.7,440.1 416.1,439.5 416.5,439.9 416.9,440.5 417.3,441.1 417.7,441.7 418.1,442.3 418.5,443.0 418.9,443.6 419.3,443.6 419.7,443.3 420.1,442.8 420.5,442.3 420.9,441.8 421.3,441.3 421.7,441.3 422.1,441.7 422.5,442.1 422.9,442.6 423.3,443.0 423.7,443.5 424.1,443.9 424.5,443.7 424.9,442.9 425.3,442.2 425.7,441.5 426.1,440.7 426.5,440.0 426.9,440.3 427.3,441.4 427.7,442.5 428.1,443.6 428.5,444.7 428.9,444.5 429.3,443.0 429.7,441.6 430.1,440.1 430.5,438.6 430.9,437.2 431.3,435.7 431.7,434.3 432.1,432.8 432.5,432.9 432.9,433.1 433.3,433.4 433.7,433.6 434.1,433.8 434.5,434.1 434.9,434.3 435.3,434.5 435.7,434.8 436.1,435.0 436.5,435.1 436.9,435.1 437.3,435.2 437.7,435.3 438.1,435.3 438.5,435.4 438.9,436.3 439.3,437.3 439.7,438.2 440.1,439.2 440.5,440.2 440.9,441.2 441.3,441.3 441.7,441.3 442.1,441.3 442.5,441.4 442.9,441.4 443.3,441.4 443.7,441.4 444.1,441.4 444.5,440.7 444.9,440.0 445.3,439.2 445.7,438.4 446.1,437.7 446.5,436.9 446.9,436.1 447.3,435.4 447.7,434.8 448.1,435.3 448.5,435.8 448.9,436.2 449.3,436.7 449.7,437.2 450.1,437.7 450.5,438.2 450.9,437.9 451.3,437.4 451.7,437.0 452.1,436.5 452.5,436.1 452.9,435.6 453.3,436.0 453.7,436.5 454.1,437.1 454.5,437.6 454.9,438.1 455.3,438.6 455.7,439.1 456.1,438.5 456.5,437.9 456.9,437.2 457.3,436.5 457.7,435.9 458.1,435.2 458.5,436.2 458.9,437.4 459.3,438.6 459.7,439.8 460.1,441.0 460.5,439.9 460.9,438.5 461.3,437.1 461.7,435.7 462.1,434.4 462.5,433.0 462.9,431.6 463.3,430.2 463.7,429.3 464.1,429.6 464.5,429.9 464.9,430.2 465.3,430.5 465.7,430.8 466.1,431.1 466.5,431.4 466.9,431.7 467.3,432.0 467.7,432.3 468.1,432.4 468.5,432.6 468.9,432.7 469.3,432.8 469.7,433.0 470.1,433.3 470.5,434.4 470.9,435.5 471.3,436.5 471.7,437.6 472.1,438.6 472.5,439.5 472.9,439.5 473.3,439.6 473.7,439.7 474.1,439.8 474.5,439.9 474.9,440.0 475.3,440.1 475.7,440.0 476.1,439.3 476.5,438.6 476.9,437.9 477.3,437.2 477.7,436.5 478.1,435.8 478.5,435.1 478.9,434.4 479.3,434.4 479.7,434.9 480.1,435.5 480.5,436.1 480.9,436.6 481.3,437.2 481.7,437.8 482.1,438.1 482.5,437.7 482.9,437.3 483.3,436.9 483.7,436.5 484.1,436.1 484.5,435.9 484.9,436.4 485.3,437.0 485.7,437.5 486.1,438.1 486.5,438.6 486.9,439.2 487.3,439.4 487.7,438.8 488.1,438.1 488.5,437.5 488.9,436.9 489.3,436.2 489.7,436.1 490.1,437.3 490.5,438.5 490.9,439.8 491.3,441.0 491.7,441.6 492.1,440.2 492.5,438.9 492.9,437.5 493.3,436.2 493.7,434.9 494.1,433.5 494.5,432.2 494.9,430.8 495.3,430.5 495.7,430.8 496.1,431.2 496.5,431.5 496.9,431.9 497.3,432.2 497.7,432.5 498.1,432.9 498.5,433.2 498.9,433.6 499.3,433.8 499.7,434.0 500.1,434.1 500.5,434.3 500.9,434.5 501.3,434.6 501.7,435.4 502.1,436.4 502.5,437.5 502.9,438.6 503.3,439.7 503.7,440.8 504.1,441.4 504.5,441.5 504.9,441.6 505.3,441.7 505.7,441.8 506.1,441.9 506.5,442.1 506.9,442.2 507.3,441.8 507.7,441.2 508.1,440.5 508.5,439.9 508.9,439.2 509.3,438.6 509.7,437.9 510.1,437.2 510.5,436.2 510.9,436.3 511.3,436.5 511.7,436.8 512.1,437.0 512.5,437.3 512.9,437.5 513.3,437.8 513.7,437.4 514.1,436.7 514.5,435.9 514.9,435.2 515.3,434.4 515.7,433.7 516.1,433.5 516.5,433.7 516.9,434.0 517.3,434.2 517.7,434.4 518.1,434.6 518.5,434.8 518.9,434.3 519.3,433.4 519.7,432.4 520.1,431.4 520.5,430.5 520.9,429.5 521.3,429.7 521.7,430.6 522.1,431.5 522.5,432.4 522.9,433.3 523.3,432.6 523.7,430.9 524.1,429.3 524.5,427.6 524.9,425.9 525.3,424.3 525.7,422.6 526.1,420.9 526.5,419.2 526.9,419.2 527.3,419.2 527.7,419.2 528.1,419.2 528.5,419.2 528.9,419.2 529.3,419.2 529.7,419.2 530.1,419.2 530.5,419.3 530.9,419.1 531.3,418.9 531.7,418.8 532.1,418.6 532.5,418.4 532.9,418.3 533.3,419.0 533.7,419.8 534.1,420.5 534.5,421.3 534.9,422.1 535.3,422.8 535.7,422.7 536.1,422.5 536.5,422.3 536.9,422.0 537.3,421.8 537.7,421.6 538.1,421.4 538.5,421.2 538.9,420.3 539.3,419.3 539.7,418.3 540.1,417.3 540.5,416.1 540.9,414.9 541.3,413.8 541.7,412.6 542.1,411.7 542.5,411.8 542.9,411.8 543.3,411.9 543.7,412.0 544.1,412.0 544.5,412.1 544.9,412.2 545.3,411.3 545.7,410.4 546.1,409.4 546.5,408.5 546.9,407.6 547.3,406.7 547.7,406.6 548.1,406.7 548.5,406.7 548.9,406.8 549.3,406.8 549.7,406.8 550.1,406.9 550.5,405.8 550.9,404.6 551.3,403.5 551.7,402.3 552.1,401.2 552.5,400.0 552.9,400.7 553.3,401.4 553.7,402.1 554.1,402.8 554.5,403.5 554.9,401.8 555.3,400.0 555.7,398.1 556.1,396.3 556.5,394.4 556.9,392.5 557.3,390.7 557.7,388.8 558.1,387.5 558.5,387.3 558.9,387.1 559.3,387.0 559.7,386.8 560.1,386.5 560.5,385.9 560.9,385.3 561.3,384.7 561.7,384.1 562.1,383.5 562.5,382.7 562.9,381.9 563.3,381.1 563.7,380.3 564.1,379.6 564.5,379.1 564.9,379.2 565.3,379.4 565.7,379.5 566.1,379.7 566.5,379.8 566.9,379.7 567.3,378.9 567.7,378.0 568.1,377.2 568.5,376.4 568.9,375.6 569.3,374.7 569.7,373.9 570.1,372.9 570.5,371.3 570.9,369.7 571.3,368.1 571.7,366.5 572.1,364.9 572.5,363.3 572.9,361.7 573.3,360.1 573.7,359.1 574.1,358.8 574.5,358.4 574.9,358.1 575.3,357.7 575.7,357.3 576.1,357.0 576.5,356.3 576.9,355.0 577.3,353.6 577.7,352.2 578.1,350.9 578.5,349.5 578.9,348.4 579.3,348.0 579.7,347.6 580.1,347.2 580.5,346.8 580.9,346.4 581.3,346.0 581.7,345.3 582.1,343.7 582.5,342.1 582.9,340.5 583.3,338.9 583.7,337.3 584.1,336.3 584.5,336.6 584.9,336.9 585.3,337.1 585.7,337.4 586.1,336.9 586.5,334.6 586.9,332.3 587.3,330.0 587.7,327.7 588.1,325.4 588.5,323.1 588.9,320.9 589.3,318.6 589.7,317.4 590.1,316.7 590.5,316.1 590.9,315.5 591.3,314.9 591.7,314.3 592.1,313.7 592.5,313.1 592.9,312.5 593.3,311.9 593.7,311.1 594.1,310.4 594.5,309.6 594.9,308.8 595.3,308.0 595.7,307.2 596.1,307.0 596.5,307.2 596.9,307.3 597.3,307.5 597.7,307.6 598.1,307.8 598.5,307.3 598.9,306.4 599.3,305.6 599.7,304.8 600.1,303.9 600.5,303.0 600.9,302.1 601.3,301.2 601.7,299.8 602.1,298.2 602.5,296.5 602.9,294.8 603.3,293.1 603.7,291.5 604.1,289.8 604.5,288.1 604.9,286.4 605.3,285.9 605.7,285.4 606.1,285.0 606.5,284.6 606.9,284.1 607.3,283.7 607.7,283.3 608.1,282.2 608.5,280.7 608.9,279.3 609.3,277.9 609.7,276.4 610.1,275.0 610.5,274.2 610.9,273.7 611.3,273.2 611.7,272.7 612.1,272.3 612.5,271.8 612.9,271.3 613.3,270.1 613.7,268.4 614.1,266.8 614.5,265.1 614.9,263.5 615.3,261.8 615.7,261.4 616.1,261.6 616.5,261.8 616.9,262.0 617.3,262.2 617.7,260.7 618.1,258.4 618.5,256.0 618.9,253.7 619.3,251.3 619.7,248.9 620.1,246.6 620.5,244.5 620.9,242.3 621.3,241.8 621.7,241.4 622.1,240.9 622.5,240.4 622.9,240.0 623.3,239.5 623.7,239.1 624.1,238.6 624.5,238.1 624.9,237.7 625.3,237.0 625.7,236.4 626.1,235.7 626.5,235.1 626.9,234.4 627.3,233.8 627.7,234.1 628.1,234.4 628.5,234.7 628.9,235.0 629.3,235.2 629.7,235.5 630.1,234.8 630.5,234.2 630.9,233.5 631.3,232.8 631.7,232.1 632.1,231.4 632.5,230.7 632.9,230.0 633.3,228.6 633.7,227.1 634.1,225.6 634.5,224.2 634.9,222.7 635.3,221.3 635.7,219.8 636.1,218.3 636.5,217.2 636.9,217.0 637.3,216.7 637.7,216.5 638.1,216.3 638.5,216.1 638.9,215.8 639.3,215.6 639.7,214.4 640.1,213.1 640.5,211.8 640.9,210.5 641.3,209.2 641.7,207.8 642.1,207.5 642.5,207.1 642.9,206.8 643.3,206.4 643.7,206.0 644.1,205.7 644.5,205.3 644.9,203.8 645.3,202.2 645.7,200.7 646.1,199.1 646.5,197.6 646.9,196.1 647.3,196.4 647.7,196.7 648.1,197.0 648.5,197.4 648.9,197.7 649.3,195.4 649.7,193.2 650.1,190.9 650.5,188.7 650.9,186.4 651.3,184.2 651.7,181.9 652.1,179.7 652.5,178.0 652.9,177.5 653.3,176.9 653.7,176.3 654.1,175.8 654.5,175.2 654.9,174.6 655.3,174.1 655.7,173.5 656.1,173.0 656.5,172.3 656.9,171.6 657.3,170.8 657.7,170.1 658.1,169.4 658.5,168.6 658.9,168.2 659.3,168.4 659.7,168.6 660.1,168.7 660.5,168.8 660.9,168.8 661.3,168.5 661.7,167.5 662.1,166.6 662.5,165.6 662.9,164.7 663.3,163.7 663.7,162.8 664.1,161.8 664.5,160.6 664.9,158.9 665.3,157.2 665.7,155.5 666.1,153.7 666.5,152.0 666.9,150.3 667.3,148.6 667.7,146.9 668.1,145.9 668.5,145.4 668.9,144.9 669.3,144.4 669.7,143.9 670.1,143.5 670.5,143.0 670.9,142.1 671.3,140.7 671.7,139.2 672.1,137.7 672.5,136.2 672.9,134.7 673.3,133.6 673.7,133.0 674.1,132.5 674.5,132.0 674.9,131.5 675.3,131.0 675.7,130.4 676.1,129.5 676.5,127.8 676.9,126.1 677.3,124.4 677.7,122.7 678.1,121.0 678.5,119.9 678.9,120.1 679.3,120.3 679.7,120.4 680.1,120.6 680.5,119.8 680.9,117.4 681.3,115.0 681.7,112.6 682.1,110.2 682.5,107.8 682.9,105.4 683.3,103.0 683.7,100.6 684.1,99.3 684.5,98.6 684.9,97.9 685.3,97.1 685.7,96.4 686.1,95.7 686.5,95.0 686.9,94.2 687.3,93.5 687.7,92.8 688.1,91.9 688.5,91.0 688.9,90.1 689.3,89.2 689.7,88.3 690.1,87.4 690.5,87.2 690.9,87.2 691.3,88.6 691.7,90.6 692.1,92.5 692.5,94.4 692.9,95.6 693.3,96.5 693.7,97.4 694.1,98.4 694.5,99.3 694.9,100.2 695.3,101.1 695.7,102.1 696.1,102.5 696.5,102.6 696.9,102.8 697.3,102.9 697.7,103.1 698.1,103.2 698.5,103.4 698.9,103.5 699.3,103.7 699.7,105.0 700.1,106.4 700.5,107.8 700.9,109.2 701.3,110.6 701.7,112.0 702.1,113.3 702.5,114.0 702.9,114.4 703.3,114.8 703.7,115.2 704.1,115.6 704.5,116.0 704.9,117.0 705.3,118.4 705.7,119.8 706.1,121.1 706.5,122.5 706.9,123.8 707.3,125.2 707.7,125.7 708.1,125.9 708.5,126.0 708.9,126.2 709.3,126.4 709.7,126.5 710.1,128.0 710.5,130.1 710.9,132.1 711.3,134.1 711.7,136.2 712.1,136.4 712.5,135.9 712.9,135.3 713.3,134.8 713.7,134.3 714.1,133.7 714.5,133.2 714.9,132.7 715.3,132.5 715.7,133.9 716.1,135.4 716.5,136.9 716.9,138.4 717.3,139.9 717.7,141.3 718.1,142.8 718.5,144.3 718.9,145.8 719.3,147.3 719.7,148.6 720.1,149.9 720.5,151.2 720.9,152.5 721.3,153.8 721.7,155.1 722.1,157.4 722.5,159.6 722.9,161.8 723.3,164.1 723.7,166.3 724.1,168.5 724.5,169.8 724.9,171.0 725.3,172.3 725.7,173.5 726.1,174.8 726.5,176.0 726.9,177.3 727.3,178.5 727.7,179.0 728.1,179.5 728.5,180.0 728.9,180.5 729.3,180.9 729.7,181.4 730.1,181.9 730.5,182.4 730.9,183.3 731.3,185.0 731.7,186.7 732.1,188.4 732.5,190.1 732.9,191.9 733.3,193.6 733.7,195.3 734.1,196.0 734.5,196.7 734.9,197.4 735.3,198.1 735.7,198.9 736.1,199.6 736.5,201.3 736.9,203.0 737.3,204.7 737.7,206.4 738.1,208.1 738.5,209.7 738.9,211.4 739.3,211.9 739.7,212.4 740.1,212.9 740.5,213.4 740.9,213.9 741.3,214.5 741.7,216.9 742.1,219.2 742.5,221.6 742.9,224.0 743.3,224.9 743.7,222.9 744.1,220.9 744.5,219.0 744.9,217.0 745.3,215.0 745.7,213.0 746.1,211.1 746.5,209.1 746.9,207.8 747.3,207.5 747.7,207.2 748.1,206.9 748.5,206.6 748.9,206.4 749.3,206.1 749.7,205.8 750.1,205.5 750.5,205.2 750.9,204.9 751.3,204.4 751.7,203.9 752.1,203.5 752.5,203.0 752.9,202.5 753.3,202.4 753.7,202.9 754.1,203.4 754.5,203.9 754.9,204.3 755.3,204.8 755.7,204.9 756.1,204.4 756.5,203.8 756.9,203.3 757.3,202.8 757.7,202.3 758.1,201.8 758.5,201.3 758.9,200.5 759.3,199.2 759.7,197.9 760.1,196.6 760.5,195.3 760.9,193.9 761.3,192.6 761.7,191.2 762.1,189.9 762.5,189.3 762.9,189.2 763.3,189.1 763.7,189.0 764.1,188.9 764.5,188.7 764.9,188.6 765.3,188.1 765.7,187.0 766.1,185.9 766.5,184.8 766.9,183.7 767.3,182.5 767.7,181.8 768.1,181.7 768.5,181.5 768.9,181.4 769.3,181.2 769.7,181.1 770.1,180.9 770.5,180.3 770.9,178.9 771.3,177.6 771.7,176.3 772.1,175.0 772.5,173.6 772.9,173.0 773.3,173.6 773.7,174.1 774.1,174.6 774.5,175.2 774.9,174.7 775.3,172.6 775.7,170.6 776.1,168.8 776.5,167.8 776.9,166.7 777.3,165.7 777.7,164.6 778.1,163.6 778.5,163.8 778.9,164.4 779.3,165.1 779.7,165.7 780.1,166.4 780.5,167.0 780.9,167.6 781.3,168.3 781.7,168.9 782.1,169.6 782.5,170.1 782.9,170.5 783.3,171.0 783.7,171.5 784.1,171.9 784.5,172.4 784.9,173.6 785.3,175.0 785.7,176.4 786.1,177.8 786.5,179.2 786.9,180.5 787.3,181.2 787.7,181.6 788.1,182.0 788.5,182.5 788.9,182.9 789.3,183.3 789.7,183.7 790.1,184.1 790.5,184.0 790.9,183.6 791.3,183.3 791.7,182.9 792.1,182.6 792.5,182.2 792.9,181.8 793.3,181.5 793.7,181.1 794.1,182.0 794.5,182.9 794.9,183.8 795.3,184.7 795.7,185.6 796.1,186.4 796.5,187.3 796.9,187.4 797.3,187.3 797.7,187.2 798.1,187.1 798.5,187.0 798.9,186.9 799.3,187.5 799.7,188.3 800.1,189.1 800.5,190.0 800.9,190.8 801.3,191.7 801.7,192.5 802.1,192.4 802.5,192.1 802.9,191.8 803.3,191.4 803.7,191.1 804.1,190.7 804.5,191.8 804.9,193.3 805.3,194.8 805.7,196.4 806.1,197.9 806.5,197.5 806.9,196.4 807.3,195.4 807.7,194.3 808.1,193.3 808.5,192.2 808.9,191.2 809.3,190.1 809.7,189.2 810.1,189.8 810.5,190.5 810.9,191.1 811.3,191.7 811.7,192.4 812.1,193.0 812.5,193.6 812.9,194.3 813.3,194.9 813.7,195.5 814.1,196.0 814.5,196.4 814.9,196.9 815.3,197.4 815.7,197.8 816.1,198.4 816.5,199.7 816.9,201.1 817.3,202.5 817.7,203.9 818.1,205.3 818.5,206.6 818.9,207.0 819.3,207.4 819.7,207.8 820.1,208.2 820.5,208.7 820.9,209.1 821.3,209.5 821.7,209.8 822.1,209.4 822.5,209.1 822.9,208.7 823.3,208.4 823.7,208.0 824.1,207.6 824.5,207.3 824.9,206.9 825.3,206.9 825.7,207.7 826.1,208.5 826.5,209.4 826.9,210.2 827.3,211.0 827.7,211.8 828.1,212.5 828.5,212.3 828.9,212.1 829.3,211.9 829.7,211.7 830.1,211.5 830.5,211.5 830.9,212.2 831.3,213.0 831.7,213.8 832.1,214.5 832.5,215.3 832.9,216.1 833.3,216.7 833.7,216.3 834.1,215.9 834.5,215.5 834.9,215.1 835.3,214.7 835.7,214.5 836.1,215.9 836.5,217.4 836.9,218.9 837.3,220.3 837.7,221.5 838.1,220.4 838.5,219.3 838.9,218.2 839.3,217.1 839.7,215.9 840.1,214.8 840.5,213.7 840.9,212.6 841.3,212.2 841.7,212.8 842.1,213.4 842.5,213.9 842.9,214.5 843.3,215.1 843.7,215.6 844.1,216.2 844.5,216.8 844.9,217.3 845.3,217.8 845.7,218.2 846.1,218.6 846.5,219.0 846.9,219.4 847.3,219.8 847.7,220.6 848.1,221.9 848.5,223.3 848.9,224.6 849.3,225.9 849.7,227.2 850.1,228.2 850.5,228.6 850.9,229.1 851.3,229.5 851.7,230.0 852.1,230.4 852.5,230.9 852.9,231.3 853.3,231.5 853.7,231.1 854.1,230.8 854.5,230.5 854.9,230.2 855.3,229.9 855.7,229.5 856.1,229.2 856.5,228.9 856.9,229.5 857.3,230.4 857.7,231.3 858.1,232.2 858.5,233.1 858.9,234.1 859.3,235.0 859.7,235.4 860.1,235.4 860.5,235.3 860.9,235.2 861.3,235.1 861.7,235.0 862.1,235.4 862.5,236.3 862.9,237.2 863.3,238.0 863.7,238.9 864.1,239.8 864.5,240.7 864.9,241.0 865.3,240.7 865.7,240.4 866.1,240.1 866.5,239.8 866.9,239.5 867.3,240.1 867.7,241.7 868.1,243.2 868.5,244.8 868.9,246.4 869.3,246.8 869.7,245.8 870.1,244.8 870.5,243.7 870.9,242.7 871.3,241.7 871.7,240.7 872.1,239.7 872.5,238.7 872.9,239.1 873.3,239.7 873.7,240.4 874.1,241.1 874.5,241.8 874.9,242.4 875.3,243.1 875.7,243.7 876.1,244.3 876.5,244.9 876.9,245.3 877.3,245.7 877.7,246.2 878.1,246.6 878.5,247.0 878.9,247.4 879.3,248.6 879.7,250.0 880.1,251.3 880.5,252.7 880.9,254.0 881.3,255.4 881.7,256.0 882.1,256.4 882.5,256.7 882.9,257.1 883.3,257.5 883.7,257.9 884.1,258.3 884.5,258.6 884.9,258.4 885.3,258.0 885.7,257.6 886.1,257.2 886.5,256.8 886.9,256.4 887.3,256.0 887.7,255.6 888.1,255.3 888.5,256.1 888.9,257.0 889.3,257.8 889.7,258.7 890.1,259.5 890.5,260.4 890.9,261.2 891.3,261.2 891.7,261.1 892.1,260.9 892.5,260.8 892.9,260.6 893.3,260.4 893.7,261.1 894.1,261.9 894.5,262.7 894.9,263.5 895.3,264.3 895.7,265.1 896.1,265.9 896.5,265.7 896.9,265.4 897.3,265.0 897.7,264.6 898.1,264.2 898.5,263.9 898.9,265.0 899.3,266.5 899.7,268.0 900.1,269.5 900.5,271.0 900.9,270.5 901.3,269.5 901.7,268.5 902.1,267.5 902.5,266.4 902.9,265.4 903.3,264.4 903.7,263.4 904.1,262.6 904.5,263.3 904.9,263.9 905.3,264.6 905.7,265.3 906.1,265.9 906.5,266.6 906.9,267.3 907.3,267.9 907.7,268.6 908.1,269.2 908.5,269.7 908.9,270.2 909.3,270.7 909.7,271.2 910.1,271.7 910.5,272.3 910.9,273.7 911.3,275.1 911.7,276.5 912.1,278.0 912.5,279.4 912.9,280.7 913.3,281.1 913.7,281.5 914.1,282.0 914.5,282.4 914.9,282.9 915.3,283.3 915.7,283.8 916.1,284.1 916.5,283.7 916.9,283.4 917.3,283.1 917.7,282.8 918.1,282.4 918.5,282.1 918.9,281.8 919.3,281.4 919.7,281.6 920.1,282.5 920.5,283.4 920.9,284.3 921.3,285.2 921.7,286.1 922.1,287.0 922.5,287.8 922.9,287.7 923.3,287.6 923.7,287.5 924.1,287.4 924.5,287.3 924.9,287.3 925.3,288.1 925.7,288.9 926.1,289.7 926.5,290.5 926.9,291.3 927.3,292.0 927.7,292.6 928.1,292.2 928.5,291.8 928.9,291.4 929.3,291.0 929.7,290.6 930.1,290.5 930.5,292.0 930.9,293.4 931.3,294.9 931.7,296.4 932.1,297.5 932.5,296.3 932.9,295.2 933.3,294.1 933.7,293.0 934.1,291.9 934.5,290.8 934.9,289.7 935.3,288.6 935.7,288.3 936.1,288.9 936.5,289.5 936.9,290.0 937.3,290.6 937.7,291.2 938.1,291.8 938.5,292.3 938.9,292.9 939.3,293.5 939.7,294.0 940.1,294.4 940.5,294.8 940.9,295.2 941.3,295.6 941.7,296.0 942.1,296.8 942.5,298.2 942.9,299.5 943.3,300.8 943.7,302.1 944.1,303.5 944.5,304.3" fill="none" stroke="#0072B2" stroke-width="2.6" stroke-linejoin="round"/>
<rect x="79.5" y="15.5" width="906.0" height="527.0" fill="none" stroke="#000" stroke-width="1.11"/>
<g stroke="#000" stroke-width="1.11"><line x1="152.50" y1="542.5" x2="152.50" y2="547.36"/><line x1="278.35" y1="542.5" x2="278.35" y2="547.36"/><line x1="404.20" y1="542.5" x2="404.20" y2="547.36"/><line x1="530.05" y1="542.5" x2="530.05" y2="547.36"/><line x1="655.90" y1="542.5" x2="655.90" y2="547.36"/><line x1="781.75" y1="542.5" x2="781.75" y2="547.36"/><line x1="907.60" y1="542.5" x2="907.60" y2="547.36"/><line x1="74.64" y1="504.50" x2="79.5" y2="504.50"/><line x1="74.64" y1="392.95" x2="79.5" y2="392.95"/><line x1="74.64" y1="281.40" x2="79.5" y2="281.40"/><line x1="74.64" y1="169.85" x2="79.5" y2="169.85"/><line x1="74.64" y1="58.30" x2="79.5" y2="58.30"/></g>
<text x="151.90" y="562" text-anchor="middle" textLength="33.6" lengthAdjust="spacingAndGlyphs">2001</text><text x="277.75" y="562" text-anchor="middle" textLength="33.6" lengthAdjust="spacingAndGlyphs">2005</text><text x="403.60" y="562" text-anchor="middle" textLength="33.6" lengthAdjust="spacingAndGlyphs">2009</text><text x="529.45" y="562" text-anchor="middle" textLength="33.6" lengthAdjust="spacingAndGlyphs">2013</text><text x="655.30" y="562" text-anchor="middle" textLength="33.6" lengthAdjust="spacingAndGlyphs">2017</text><text x="781.15" y="562" text-anchor="middle" textLength="33.6" lengthAdjust="spacingAndGlyphs">2021</text><text x="907.00" y="562" text-anchor="middle" textLength="33.6" lengthAdjust="spacingAndGlyphs">2025</text><text x="70.2" y="510.40" text-anchor="end" textLength="8.4" lengthAdjust="spacingAndGlyphs">0</text><text x="68.6" y="398.85" text-anchor="end" textLength="33.6" lengthAdjust="spacingAndGlyphs">1000</text><text x="68.6" y="287.30" text-anchor="end" textLength="33.6" lengthAdjust="spacingAndGlyphs">2000</text><text x="68.6" y="175.75" text-anchor="end" textLength="33.6" lengthAdjust="spacingAndGlyphs">3000</text><text x="68.6" y="64.20" text-anchor="end" textLength="33.6" lengthAdjust="spacingAndGlyphs">4000</text>
<text x="532.5" y="582" text-anchor="middle" textLength="14" lengthAdjust="spacingAndGlyphs">ds</text>
<text transform="translate(25.6,279) rotate(-90)" text-anchor="middle" textLength="8" lengthAdjust="spacingAndGlyphs">y</text>
</svg>
</body></html>
